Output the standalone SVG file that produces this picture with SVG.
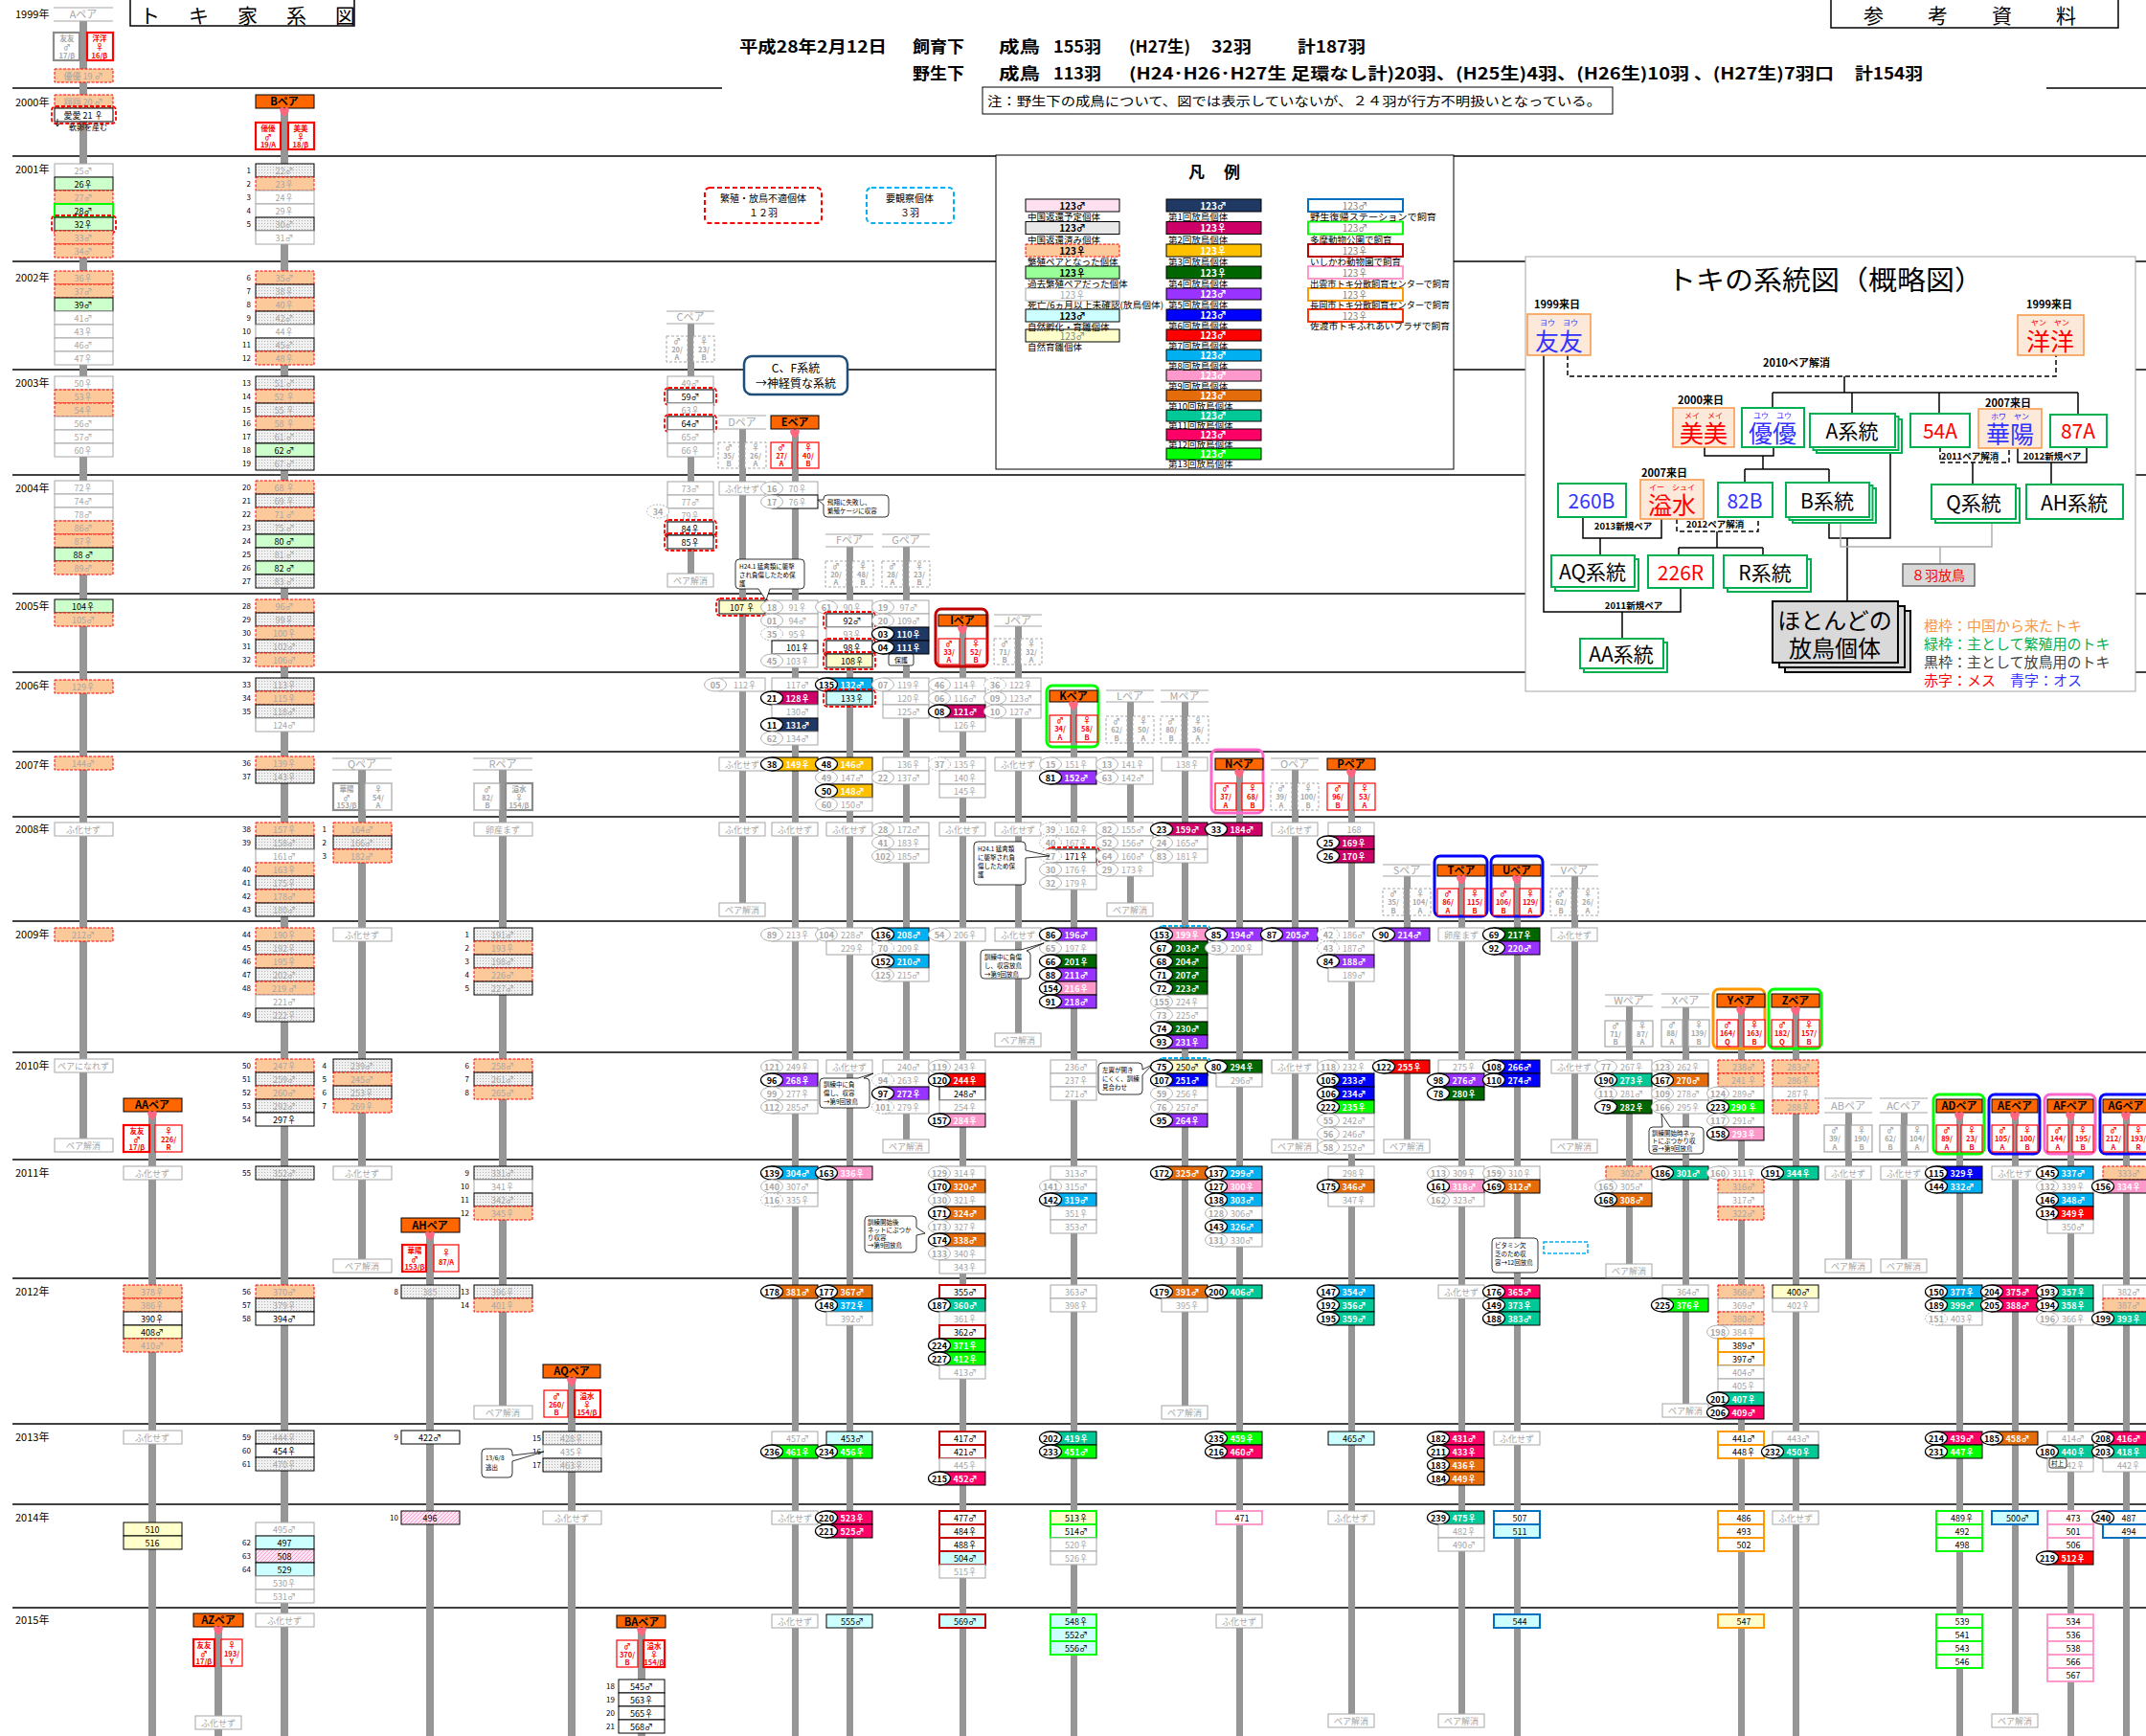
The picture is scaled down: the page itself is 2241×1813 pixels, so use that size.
<svg xmlns="http://www.w3.org/2000/svg" xmlns:xlink="http://www.w3.org/1999/xlink" width="2241" height="1813" viewBox="0 0 2241 1813">
<style>
text{font-family:"Noto Sans CJK JP","Liberation Sans",sans-serif}
.yl{stroke:#000;stroke-width:1.5}
.bar{fill:#969696}
use.w{fill:#fff;stroke:#a6a6a6}
use.k{fill:#fff;stroke:#000}
use.o{fill:#fcc99b;stroke:#f00;stroke-dasharray:3 1.5}
use.g{fill:#ccffcc;stroke:#000}
use.h{fill:url(#dt);stroke:#000}
use.y{fill:#ffffcc;stroke:#000}
use.c{fill:#ccffff;stroke:#000}
use.pk{fill:url(#ph);stroke:#000}
use.r1{fill:#1f3864;stroke:#000}
use.r2{fill:#cc0066;stroke:#000}
use.r3{fill:#ffc000;stroke:#000}
use.r4{fill:#006600;stroke:#000}
use.r5{fill:#9933ff;stroke:#000}
use.r6{fill:#0000ff;stroke:#000}
use.r7{fill:#ff0000;stroke:#000}
use.r8{fill:#00b0f0;stroke:#000}
use.r9{fill:#ff99cc;stroke:#000}
use.r10{fill:#e46c0a;stroke:#000}
use.r11{fill:#00c896;stroke:#000}
use.r12{fill:#ff0066;stroke:#000}
use.r13{fill:#00ff00;stroke:#000}
use.bI{stroke:#c00000;stroke-width:2}
use.bT{stroke:#00ff00;stroke-width:2}
use.bN{stroke:#ff99cc;stroke-width:2}
use.bY{stroke:#ff9900;stroke-width:2}
use.bB{stroke:#0070c0;stroke-width:2}
use.rd{fill:none;stroke:#f00;stroke-width:1.8;stroke-dasharray:4 2}
use.bd{fill:none;stroke:#00b0f0;stroke-width:1.8;stroke-dasharray:4 2}
use.ek{fill:#fff;stroke:#000;stroke-width:1.3}
use.eg{fill:#fff;stroke:#b0b0b0}
use.ed{fill:#fff;stroke:#b0b0b0;stroke-dasharray:2 1.5}
.t text{font-size:9px;text-anchor:middle;fill:#a6a6a6}
.t .b{fill:#000}
.t .v{fill:#fff;font-weight:bold}
.t .n{font-weight:bold}
.t .ln{font-size:8px;text-anchor:end;fill:#000}
.t .pt{font-size:11px;font-weight:bold;fill:#000}
.t .pg{font-size:11px;fill:#a6a6a6}
.t .mt{font-size:7.5px;font-weight:bold;fill:#f00}
.t .mg{font-size:7.5px;font-weight:bold;fill:#a6a6a6}
.t .cs{font-size:6.5px;fill:#000;text-anchor:start}
.ph{fill:#ff6600;stroke:#000}
.pl{stroke:#a6a6a6;stroke-width:1.2}
.mr{fill:#fff;stroke:#f00;stroke-width:1.2}
.mr2{fill:#fff;stroke:#f00;stroke-width:2.2}
.mgs{fill:#fff;stroke:#a6a6a6;stroke-width:1.2}
.mg2{fill:#fff;stroke:#8c8c8c;stroke-width:2.2}
.md{fill:#fff;stroke:#a6a6a6;stroke-dasharray:3 2}
.fr{fill:none;stroke-width:3}
.cl{fill:#fff;stroke:#000;stroke-width:0.8}
.lg{font-size:9.5px;fill:#000}
.ins{fill:#fff;stroke:#00b050;stroke-width:2}
.pch{fill:#fde9d9;stroke:#f79646;stroke-width:1.5}
.il{fill:none;stroke:#000;stroke-width:1.5}
.ild{fill:none;stroke:#000;stroke-width:1.5;stroke-dasharray:5 3}
</style>
<defs>
<pattern id="dt" width="3" height="3" patternUnits="userSpaceOnUse"><rect width="3" height="3" fill="#f0f0f0"/><rect width="1" height="1" fill="#b4b4b4"/></pattern>
<pattern id="ph" width="4" height="4" patternUnits="userSpaceOnUse"><rect width="4" height="4" fill="#ffe6f2"/><path d="M0,4 L4,0" stroke="#ff80c0" stroke-width="0.7"/></pattern>
<rect id="m" x="-24" width="48" height="14"/>
<rect id="L" x="-30" width="61" height="14"/>
<ellipse id="e" rx="11.5" ry="7"/>
<rect id="rdm" x="-27" y="-2" width="54" height="18" rx="4"/>
<rect id="rdL" x="-33" y="-2" width="67" height="18" rx="4"/>
<path id="hr" d="M0,6 C-7,0 -5,-4 -2.5,-4 C-1,-4 0,-3 0,-2 C0,-3 1,-4 2.5,-4 C5,-4 7,0 0,6Z" fill="#ff6680"/>
</defs>
<rect width="2241" height="1813" fill="#fff"/>

<!-- year lines and labels -->
<g id="years">
<line class="yl" x1="13" y1="92" x2="754" y2="92"/><line class="yl" x1="2137" y1="92" x2="2241" y2="92"/>
<line class="yl" x1="13" y1="163" x2="2241" y2="163"/>
<line class="yl" x1="13" y1="273" x2="2241" y2="273"/>
<line class="yl" x1="13" y1="386" x2="2241" y2="386"/>
<line class="yl" x1="13" y1="496" x2="2241" y2="496"/>
<line class="yl" x1="13" y1="620" x2="2241" y2="620"/>
<line class="yl" x1="13" y1="702" x2="2241" y2="702"/>
<line class="yl" x1="13" y1="785" x2="2241" y2="785"/>
<line class="yl" x1="13" y1="853" x2="2241" y2="853"/>
<line class="yl" x1="13" y1="962" x2="2241" y2="962"/>
<line class="yl" x1="13" y1="1099" x2="2241" y2="1099"/>
<line class="yl" x1="13" y1="1211" x2="2241" y2="1211"/>
<line class="yl" x1="13" y1="1335" x2="2241" y2="1335"/>
<line class="yl" x1="13" y1="1487" x2="2241" y2="1487"/>
<line class="yl" x1="13" y1="1571" x2="2241" y2="1571"/>
<line class="yl" x1="13" y1="1679" x2="2241" y2="1679"/>
<g font-size="11">
<text x="16" y="19">1999年</text><text x="16" y="111">2000年</text><text x="16" y="181">2001年</text><text x="16" y="294">2002年</text><text x="16" y="404">2003年</text><text x="16" y="514">2004年</text><text x="16" y="637">2005年</text><text x="16" y="720">2006年</text><text x="16" y="803">2007年</text><text x="16" y="870">2008年</text><text x="16" y="980">2009年</text><text x="16" y="1117">2010年</text><text x="16" y="1229">2011年</text><text x="16" y="1353">2012年</text><text x="16" y="1505">2013年</text><text x="16" y="1589">2014年</text><text x="16" y="1696">2015年</text>
</g>
</g>

<!-- headers -->
<g id="title">
<rect x="136" y="-3" width="234" height="30" fill="#fff" stroke="#000" stroke-width="1.5"/>
<text x="146" y="24" font-size="21" letter-spacing="30">トキ家系図</text>
<rect x="1912" y="-3" width="300" height="32" fill="#fff" stroke="#000" stroke-width="1.5"/>
<text x="1946" y="24" font-size="21" letter-spacing="46">参考資料</text>
<g font-size="17" font-weight="bold">
<text x="772" y="55" textLength="154" lengthAdjust="spacingAndGlyphs">平成28年2月12日</text>
<text x="953" y="55" textLength="54" lengthAdjust="spacingAndGlyphs">飼育下</text>
<text x="1043" y="55" textLength="43" lengthAdjust="spacingAndGlyphs">成鳥</text>
<text x="1100" y="55" textLength="50" lengthAdjust="spacingAndGlyphs">155羽</text>
<text x="1179" y="55" textLength="64" lengthAdjust="spacingAndGlyphs">(H27生)</text>
<text x="1265" y="55" textLength="42" lengthAdjust="spacingAndGlyphs">32羽</text>
<text x="1355" y="55" textLength="71" lengthAdjust="spacingAndGlyphs">計187羽</text>
<text x="953" y="83" textLength="54" lengthAdjust="spacingAndGlyphs">野生下</text>
<text x="1043" y="83" textLength="43" lengthAdjust="spacingAndGlyphs">成鳥</text>
<text x="1100" y="83" textLength="50" lengthAdjust="spacingAndGlyphs">113羽</text>
<text x="1179" y="83" textLength="736" lengthAdjust="spacingAndGlyphs">(H24･H26･H27生 足環なし計)20羽、(H25生)4羽、(H26生)10羽 、(H27生)7羽口</text>
<text x="1937" y="83" textLength="71" lengthAdjust="spacingAndGlyphs">計154羽</text>
</g>
<rect x="1026" y="91" width="658" height="28" fill="#fff" stroke="#000"/>
<text x="1031" y="110" font-size="13" textLength="641" lengthAdjust="spacingAndGlyphs">注：野生下の成鳥について、図では表示していないが、２４羽が行方不明扱いとなっている。</text>
</g>

<g id="notes">
<rect x="736" y="196" width="122" height="37" rx="5" fill="#fff" stroke="#f00" stroke-width="2" stroke-dasharray="5 3"/>
<text x="797" y="211" font-size="10" text-anchor="middle">繁殖・放鳥不適個体</text>
<text x="797" y="226" font-size="10" text-anchor="middle">１２羽</text>
<rect x="905" y="196" width="91" height="37" rx="5" fill="#fff" stroke="#00b0f0" stroke-width="2" stroke-dasharray="5 3"/>
<text x="950" y="211" font-size="10" text-anchor="middle">要観察個体</text>
<text x="950" y="226" font-size="10" text-anchor="middle">３羽</text>
<rect x="777" y="372" width="108" height="40" rx="8" fill="#fff" stroke="#1f4e79" stroke-width="2.5"/>
<text x="831" y="389" font-size="12" text-anchor="middle">C、F系統</text>
<text x="831" y="405" font-size="12" text-anchor="middle">→神経質な系統</text>
</g>

<!-- connectors: lineage bars -->
<g id="bars" class="bar">
<rect x="83" y="22" width="8" height="1167"/>
<rect x="293" y="113" width="8" height="1700"/>
<rect x="155" y="1161" width="8" height="652"/>
<rect x="224" y="1699" width="8" height="114"/>
<rect x="374" y="804" width="8" height="511"/>
<rect x="521" y="804" width="8" height="664"/>
<rect x="445" y="1287" width="8" height="526"/>
<rect x="593" y="1439" width="8" height="374"/>
<rect x="666" y="1700" width="8" height="113"/>
<rect x="718" y="338" width="7" height="261"/>
<rect x="772" y="448" width="7" height="495"/>
<rect x="827" y="448" width="7" height="1365"/>
<rect x="884" y="571" width="7" height="1242"/>
<rect x="943" y="571" width="7" height="619"/>
<rect x="1002" y="654" width="7" height="1159"/>
<rect x="1060" y="654" width="7" height="425"/>
<rect x="1118" y="733" width="7" height="1080"/>
<rect x="1177" y="733" width="7" height="210"/>
<rect x="1234" y="733" width="7" height="735"/>
<rect x="1291" y="804" width="7" height="1009"/>
<rect x="1349" y="804" width="7" height="386"/>
<rect x="1408" y="804" width="7" height="986"/>
<rect x="1466" y="915" width="7" height="275"/>
<rect x="1523" y="915" width="7" height="875"/>
<rect x="1581" y="915" width="7" height="898"/>
<rect x="1641" y="915" width="7" height="275"/>
<rect x="1698" y="1051" width="7" height="269"/>
<rect x="1757" y="1052" width="7" height="414"/>
<rect x="1815" y="1052" width="7" height="761"/>
<rect x="1872" y="1052" width="7" height="761"/>
<rect x="1927" y="1162" width="7" height="153"/>
<rect x="1985" y="1162" width="7" height="153"/>
<rect x="2043" y="1162" width="7" height="651"/>
<rect x="2101" y="1162" width="7" height="628"/>
<rect x="2159" y="1162" width="7" height="651"/>
<rect x="2217" y="1162" width="7" height="651"/>
</g>

<!-- A -->
<g id="col-A" class="t" transform="translate(87,0)">
<line class="pl" x1="-31" y1="8" x2="31" y2="8"/><line class="pl" x1="-31" y1="22" x2="31" y2="22"/>
<text class="pg" y="19">Aペア</text>
<rect class="mg2" x="-31" y="34" width="27" height="29"/><rect class="mr2" x="4" y="34" width="27" height="29"/>
<text class="mg" x="-17" y="43">友友</text><text class="mg" x="-17" y="52">♂</text><text class="mg" x="-17" y="61">17/β</text>
<text class="mt" x="17" y="43">洋洋</text><text class="mt" x="17" y="52">♀</text><text class="mt" x="17" y="61">16/β</text>
<use href="#L" class="o" y="72"/><text x="0" y="82.5">優優 19 ♂</text>
<use href="#L" class="o" y="99"/><text x="0" y="109.5">翔翔 20 ♂</text>
<use href="#L" class="k" y="113"/><text class="b" x="0" y="123.5">愛愛 21 ♀</text><use href="#rdL" class="rd" y="113"/>
<path d="M-27,124 V132 M-29,129 L-27,132 L-25,129" stroke="#000" fill="none" stroke-width="0.8"/>
<text class="b" x="5" y="136" style="font-size:8px">軟卵を産む</text>
<use href="#L" class="w" y="171"/><text x="0" y="181.5">25♂</text>
<use href="#L" class="g" y="185"/><text class="b" x="0" y="195.5">26♀</text>
<use href="#L" class="o" y="199"/><text x="0" y="209.5">27♂</text>
<use href="#L" class="g bT" y="213"/><text class="b" x="0" y="223.5">28♂</text>
<use href="#L" class="g" y="227"/><text class="b" x="0" y="237.5">32♀</text><use href="#rdL" class="rd" y="227"/>
<use href="#L" class="o" y="241"/><text x="0" y="251.5">33♂</text>
<use href="#L" class="o" y="255"/><text x="0" y="265.5">34♂</text>
<use href="#L" class="o" y="283"/><text x="0" y="293.5">36♀</text>
<use href="#L" class="o" y="297"/><text x="0" y="307.5">37♂</text>
<use href="#L" class="g" y="311"/><text class="b" x="0" y="321.5">39♂</text>
<use href="#L" class="w" y="325"/><text x="0" y="335.5">41♂</text>
<use href="#L" class="w" y="339"/><text x="0" y="349.5">43♀</text>
<use href="#L" class="w" y="353"/><text x="0" y="363.5">46♂</text>
<use href="#L" class="w" y="367"/><text x="0" y="377.5">47♀</text>
<use href="#L" class="w" y="393"/><text x="0" y="403.5">50♀</text>
<use href="#L" class="o" y="407"/><text x="0" y="417.5">53♀</text>
<use href="#L" class="o" y="421"/><text x="0" y="431.5">54♀</text>
<use href="#L" class="w" y="435"/><text x="0" y="445.5">56♂</text>
<use href="#L" class="w" y="449"/><text x="0" y="459.5">57♂</text>
<use href="#L" class="w" y="463"/><text x="0" y="473.5">60♀</text>
<use href="#L" class="w" y="502"/><text x="0" y="512.5">72♀</text>
<use href="#L" class="w" y="516"/><text x="0" y="526.5">74♂</text>
<use href="#L" class="w" y="530"/><text x="0" y="540.5">78♂</text>
<use href="#L" class="o" y="544"/><text x="0" y="554.5">86♂</text>
<use href="#L" class="o" y="558"/><text x="0" y="568.5">87♀</text>
<use href="#L" class="g" y="572"/><text class="b" x="0" y="582.5">88 ♂</text>
<use href="#L" class="o" y="586"/><text x="0" y="596.5">89♂</text>
<use href="#L" class="g" y="626"/><text class="b" x="0" y="636.5">104♀</text>
<use href="#L" class="o" y="640"/><text x="0" y="650.5">105♂</text>
<use href="#L" class="o" y="710"/><text x="0" y="720.5">129♀</text>
<use href="#L" class="o" y="790"/><text x="0" y="800.5">144♂</text>
<use href="#L" class="w" y="859"/><text x="0" y="869.5">ふ化せず</text>
<use href="#L" class="o" y="969"/><text x="0" y="979.5">212♂</text>
<use href="#L" class="w" y="1106"/><text x="0" y="1116.5">ペアになれず</text>
<use href="#L" class="w" y="1189"/><text x="0" y="1199.5">ペア解消</text>
</g>

<!-- B -->
<g id="col-B" class="t" transform="translate(297,0)">
<rect class="ph" x="-30" y="99" width="61" height="14"/><text class="pt" y="110">Bペア</text><use href="#hr" y="116"/>
<rect class="mr2" x="-30" y="128" width="26" height="28"/><rect class="mr2" x="4" y="128" width="27" height="28"/>
<text class="mt" x="-17" y="137">優優</text><text class="mt" x="-17" y="146">♂</text><text class="mt" x="-17" y="154">19/A</text>
<text class="mt" x="17" y="137">美美</text><text class="mt" x="17" y="146">♀</text><text class="mt" x="17" y="154">18/β</text>
<use href="#L" class="h" y="171"/><text x="0" y="181.5">22♂</text><text class="ln" x="-35" y="181">1</text>
<use href="#L" class="o" y="185"/><text x="0" y="195.5">23♀</text><text class="ln" x="-35" y="195">2</text>
<use href="#L" class="w" y="199"/><text x="0" y="209.5">24♀</text><text class="ln" x="-35" y="209">3</text>
<use href="#L" class="w" y="213"/><text x="0" y="223.5">29♀</text><text class="ln" x="-35" y="223">4</text>
<use href="#L" class="h" y="227"/><text x="0" y="237.5">30♂</text><text class="ln" x="-35" y="237">5</text>
<use href="#L" class="w" y="241"/><text x="0" y="251.5">31♂</text>
<use href="#L" class="o" y="283"/><text x="0" y="293.5">35♂</text><text class="ln" x="-35" y="293">6</text>
<use href="#L" class="h" y="297"/><text x="0" y="307.5">38♀</text><text class="ln" x="-35" y="307">7</text>
<use href="#L" class="o" y="311"/><text x="0" y="321.5">40♀</text><text class="ln" x="-35" y="321">8</text>
<use href="#L" class="h" y="325"/><text x="0" y="335.5">42♂</text><text class="ln" x="-35" y="335">9</text>
<use href="#L" class="w" y="339"/><text x="0" y="349.5">44♀</text><text class="ln" x="-35" y="349">10</text>
<use href="#L" class="h" y="353"/><text x="0" y="363.5">45♂</text><text class="ln" x="-35" y="363">11</text>
<use href="#L" class="o" y="367"/><text x="0" y="377.5">48♀</text><text class="ln" x="-35" y="377">12</text>
<use href="#L" class="h" y="393"/><text x="0" y="403.5">51 ♂</text><text class="ln" x="-35" y="403">13</text>
<use href="#L" class="o" y="407"/><text x="0" y="417.5">52 ♀</text><text class="ln" x="-35" y="417">14</text>
<use href="#L" class="h" y="421"/><text x="0" y="431.5">55 ♀</text><text class="ln" x="-35" y="431">15</text>
<use href="#L" class="o" y="435"/><text x="0" y="445.5">58 ♀</text><text class="ln" x="-35" y="445">16</text>
<use href="#L" class="h" y="449"/><text x="0" y="459.5">61 ♂</text><text class="ln" x="-35" y="459">17</text>
<use href="#L" class="g" y="463"/><text class="b" x="0" y="473.5">62 ♂</text><text class="ln" x="-35" y="473">18</text>
<use href="#L" class="h" y="477"/><text x="0" y="487.5">67 ♂</text><text class="ln" x="-35" y="487">19</text>
<use href="#L" class="o" y="502"/><text x="0" y="512.5">68 ♀</text><text class="ln" x="-35" y="512">20</text>
<use href="#L" class="h" y="516"/><text x="0" y="526.5">69 ♀</text><text class="ln" x="-35" y="526">21</text>
<use href="#L" class="o" y="530"/><text x="0" y="540.5">71 ♂</text><text class="ln" x="-35" y="540">22</text>
<use href="#L" class="h" y="544"/><text x="0" y="554.5">75 ♂</text><text class="ln" x="-35" y="554">23</text>
<use href="#L" class="g" y="558"/><text class="b" x="0" y="568.5">80 ♂</text><text class="ln" x="-35" y="568">24</text>
<use href="#L" class="h" y="572"/><text x="0" y="582.5">81 ♂</text><text class="ln" x="-35" y="582">25</text>
<use href="#L" class="g" y="586"/><text class="b" x="0" y="596.5">82 ♂</text><text class="ln" x="-35" y="596">26</text>
<use href="#L" class="h" y="600"/><text x="0" y="610.5">83 ♂</text><text class="ln" x="-35" y="610">27</text>
<use href="#L" class="o" y="626"/><text x="0" y="636.5">96♂</text><text class="ln" x="-35" y="636">28</text>
<use href="#L" class="h" y="640"/><text x="0" y="650.5">99♀</text><text class="ln" x="-35" y="650">29</text>
<use href="#L" class="o" y="654"/><text x="0" y="664.5">100♀</text><text class="ln" x="-35" y="664">30</text>
<use href="#L" class="h" y="668"/><text x="0" y="678.5">102♂</text><text class="ln" x="-35" y="678">31</text>
<use href="#L" class="o" y="682"/><text x="0" y="692.5">106♂</text><text class="ln" x="-35" y="692">32</text>
<use href="#L" class="h" y="708"/><text x="0" y="718.5">113♀</text><text class="ln" x="-35" y="718">33</text>
<use href="#L" class="o" y="722"/><text x="0" y="732.5">115♀</text><text class="ln" x="-35" y="732">34</text>
<use href="#L" class="h" y="736"/><text x="0" y="746.5">118♂</text><text class="ln" x="-35" y="746">35</text>
<use href="#L" class="w" y="750"/><text x="0" y="760.5">124♂</text>
<use href="#L" class="o" y="790"/><text x="0" y="800.5">139♀</text><text class="ln" x="-35" y="800">36</text>
<use href="#L" class="h" y="804"/><text x="0" y="814.5">143♀</text><text class="ln" x="-35" y="814">37</text>
<use href="#L" class="o" y="859"/><text x="0" y="869.5">157♀</text><text class="ln" x="-35" y="869">38</text>
<use href="#L" class="h" y="873"/><text x="0" y="883.5">158♂</text><text class="ln" x="-35" y="883">39</text>
<use href="#L" class="w" y="887"/><text x="0" y="897.5">161♂</text>
<use href="#L" class="o" y="901"/><text x="0" y="911.5">163♀</text><text class="ln" x="-35" y="911">40</text>
<use href="#L" class="h" y="915"/><text x="0" y="925.5">175♀</text><text class="ln" x="-35" y="925">41</text>
<use href="#L" class="o" y="929"/><text x="0" y="939.5">178♂</text><text class="ln" x="-35" y="939">42</text>
<use href="#L" class="h" y="943"/><text x="0" y="953.5">180♂</text><text class="ln" x="-35" y="953">43</text>
<use href="#L" class="o" y="969"/><text x="0" y="979.5">190♀</text><text class="ln" x="-35" y="979">44</text>
<use href="#L" class="h" y="983"/><text x="0" y="993.5">192♀</text><text class="ln" x="-35" y="993">45</text>
<use href="#L" class="o" y="997"/><text x="0" y="1007.5">195♀</text><text class="ln" x="-35" y="1007">46</text>
<use href="#L" class="h" y="1011"/><text x="0" y="1021.5">202♂</text><text class="ln" x="-35" y="1021">47</text>
<use href="#L" class="o" y="1025"/><text x="0" y="1035.5">219 ♂</text><text class="ln" x="-35" y="1035">48</text>
<use href="#L" class="w" y="1039"/><text x="0" y="1049.5">221♂</text>
<use href="#L" class="h" y="1053"/><text x="0" y="1063.5">222♀</text><text class="ln" x="-35" y="1063">49</text>
<use href="#L" class="o" y="1106"/><text x="0" y="1116.5">247♀</text><text class="ln" x="-35" y="1116">50</text>
<use href="#L" class="h" y="1120"/><text x="0" y="1130.5">259♂</text><text class="ln" x="-35" y="1130">51</text>
<use href="#L" class="o" y="1134"/><text x="0" y="1144.5">260♂</text><text class="ln" x="-35" y="1144">52</text>
<use href="#L" class="h" y="1148"/><text x="0" y="1158.5">292♂</text><text class="ln" x="-35" y="1158">53</text>
<use href="#L" class="k" y="1162"/><text class="b" x="0" y="1172.5">297♀</text><text class="ln" x="-35" y="1172">54</text>
<use href="#L" class="h" y="1218"/><text x="0" y="1228.5">352♂</text><text class="ln" x="-35" y="1228">55</text>
<use href="#L" class="o" y="1342"/><text x="0" y="1352.5">370♂</text><text class="ln" x="-35" y="1352">56</text>
<use href="#L" class="h" y="1356"/><text x="0" y="1366.5">379♀</text><text class="ln" x="-35" y="1366">57</text>
<use href="#L" class="k" y="1370"/><text class="b" x="0" y="1380.5">394♂</text><text class="ln" x="-35" y="1380">58</text>
<use href="#L" class="h" y="1494"/><text x="0" y="1504.5">444♀</text><text class="ln" x="-35" y="1504">59</text>
<use href="#L" class="k" y="1508"/><text class="b" x="0" y="1518.5">454♀</text><text class="ln" x="-35" y="1518">60</text>
<use href="#L" class="h" y="1522"/><text x="0" y="1532.5">470♀</text><text class="ln" x="-35" y="1532">61</text>
<use href="#L" class="w" y="1590"/><text x="0" y="1600.5">495♂</text>
<use href="#L" class="c" y="1604"/><text class="b" x="0" y="1614.5">497</text><text class="ln" x="-35" y="1614">62</text>
<use href="#L" class="pk" y="1618"/><text class="b" x="0" y="1628.5">508</text><text class="ln" x="-35" y="1628">63</text>
<use href="#L" class="c" y="1632"/><text class="b" x="0" y="1642.5">529</text><text class="ln" x="-35" y="1642">64</text>
<use href="#L" class="w" y="1646"/><text x="0" y="1656.5">530♀</text>
<use href="#L" class="w" y="1660"/><text x="0" y="1670.5">531♂</text>
<use href="#L" class="w" y="1685"/><text x="0" y="1695.5">ふ化せず</text>
</g>

<!-- AA -->
<g id="col-AA" class="t" transform="translate(159,0)">
<rect class="ph" x="-30" y="1147" width="61" height="14"/><text class="pt" y="1158">AAペア</text><use href="#hr" y="1164"/>
<rect class="mr2" x="-30" y="1175" width="27" height="28"/><rect class="mr" x="3" y="1175" width="28" height="28"/>
<text class="mt" x="-16" y="1184">友友</text><text class="mt" x="-16" y="1193">♂</text><text class="mt" x="-16" y="1201">17/β</text>
<text class="mt" x="17" y="1184">♀</text><text class="mt" x="17" y="1193">226/</text><text class="mt" x="17" y="1201">R</text>
<use href="#L" class="w" y="1218"/><text x="0" y="1228.5">ふ化せず</text>
<use href="#L" class="o" y="1342"/><text x="0" y="1352.5">378♀</text>
<use href="#L" class="o" y="1356"/><text x="0" y="1366.5">386♀</text>
<use href="#L" class="k" y="1370"/><text class="b" x="0" y="1380.5">390♀</text>
<use href="#L" class="y" y="1384"/><text class="b" x="0" y="1394.5">408♂</text>
<use href="#L" class="o" y="1398"/><text x="0" y="1408.5">410♂</text>
<use href="#L" class="w" y="1494"/><text x="0" y="1504.5">ふ化せず</text>
<use href="#L" class="y" y="1590"/><text class="b" x="0" y="1600.5">510</text>
<use href="#L" class="y" y="1604"/><text class="b" x="0" y="1614.5">516</text>
</g>

<!-- AZ -->
<g id="col-AZ" class="t" transform="translate(228,0)">
<rect class="ph" x="-26" y="1685" width="52" height="14"/><text class="pt" y="1696">AZペア</text><use href="#hr" y="1702"/>
<rect class="mr2" x="-26" y="1712" width="22" height="28"/><rect class="mr" x="3" y="1712" width="22" height="28"/>
<text class="mt" x="-15" y="1721">友友</text><text class="mt" x="-15" y="1730">♂</text><text class="mt" x="-15" y="1738">17/β</text>
<text class="mt" x="14" y="1721">♀</text><text class="mt" x="14" y="1730">193/</text><text class="mt" x="14" y="1738">Y</text>
<use href="#m" class="w" y="1792"/><text x="0" y="1802.5">ふ化せず</text>
</g>

<!-- Q -->
<g id="col-Q" class="t" transform="translate(378,0)">
<line class="pl" x1="-31" y1="792" x2="31" y2="792"/><line class="pl" x1="-31" y1="804" x2="31" y2="804"/>
<text class="pg" y="802">Qペア</text>
<rect class="mg2" x="-30" y="818" width="27" height="28"/><rect class="mgs" x="3" y="818" width="28" height="28"/>
<text class="mg" x="-16" y="827">華陽</text><text class="mg" x="-16" y="836">♂</text><text class="mg" x="-16" y="844">153/β</text>
<text class="mg" x="17" y="827">♀</text><text class="mg" x="17" y="836">54/</text><text class="mg" x="17" y="844">A</text>
<use href="#L" class="o" y="859"/><text x="0" y="869.5">164♂</text><text class="ln" x="-37" y="869">1</text>
<use href="#L" class="h" y="873"/><text x="0" y="883.5">166♂</text><text class="ln" x="-37" y="883">2</text>
<use href="#L" class="o" y="887"/><text x="0" y="897.5">182♂</text><text class="ln" x="-37" y="897">3</text>
<use href="#L" class="w" y="969"/><text x="0" y="979.5">ふ化せず</text>
<use href="#L" class="h" y="1106"/><text x="0" y="1116.5">239♂</text><text class="ln" x="-37" y="1116">4</text>
<use href="#L" class="o" y="1120"/><text x="0" y="1130.5">245♂</text><text class="ln" x="-37" y="1130">5</text>
<use href="#L" class="h" y="1134"/><text x="0" y="1144.5">253♀</text><text class="ln" x="-37" y="1144">6</text>
<use href="#L" class="o" y="1148"/><text x="0" y="1158.5">269♀</text><text class="ln" x="-37" y="1158">7</text>
<use href="#L" class="w" y="1218"/><text x="0" y="1228.5">ふ化せず</text>
<use href="#L" class="w" y="1315"/><text x="0" y="1325.5">ペア解消</text>
</g>

<!-- R -->
<g id="col-R" class="t" transform="translate(525,0)">
<line class="pl" x1="-31" y1="792" x2="31" y2="792"/><line class="pl" x1="-31" y1="804" x2="31" y2="804"/>
<text class="pg" y="802">Rペア</text>
<rect class="mgs" x="-30" y="818" width="27" height="28"/><rect class="mg2" x="3" y="818" width="28" height="28"/>
<text class="mg" x="-16" y="827">♂</text><text class="mg" x="-16" y="836">82/</text><text class="mg" x="-16" y="844">B</text>
<text class="mg" x="17" y="827">溢水</text><text class="mg" x="17" y="836">♀</text><text class="mg" x="17" y="844">154/β</text>
<use href="#L" class="w" y="859"/><text x="0" y="869.5">卵産まず</text>
<use href="#L" class="h" y="969"/><text x="0" y="979.5">191♂</text><text class="ln" x="-35" y="979">1</text>
<use href="#L" class="o" y="983"/><text x="0" y="993.5">193♀</text><text class="ln" x="-35" y="993">2</text>
<use href="#L" class="h" y="997"/><text x="0" y="1007.5">198♂</text><text class="ln" x="-35" y="1007">3</text>
<use href="#L" class="o" y="1011"/><text x="0" y="1021.5">226♂</text><text class="ln" x="-35" y="1021">4</text>
<use href="#L" class="h" y="1025"/><text x="0" y="1035.5">227♂</text><text class="ln" x="-35" y="1035">5</text>
<use href="#L" class="o" y="1106"/><text x="0" y="1116.5">258♂</text><text class="ln" x="-35" y="1116">6</text>
<use href="#L" class="h" y="1120"/><text x="0" y="1130.5">261♂</text><text class="ln" x="-35" y="1130">7</text>
<use href="#L" class="o" y="1134"/><text x="0" y="1144.5">265♂</text><text class="ln" x="-35" y="1144">8</text>
<use href="#L" class="h" y="1218"/><text x="0" y="1228.5">331♂</text><text class="ln" x="-35" y="1228">9</text>
<use href="#L" class="w" y="1232"/><text x="0" y="1242.5">341♀</text><text class="ln" x="-35" y="1242">10</text>
<use href="#L" class="h" y="1246"/><text x="0" y="1256.5">342♂</text><text class="ln" x="-35" y="1256">11</text>
<use href="#L" class="o" y="1260"/><text x="0" y="1270.5">345♀</text><text class="ln" x="-35" y="1270">12</text>
<use href="#L" class="h" y="1342"/><text x="0" y="1352.5">396♀</text><text class="ln" x="-35" y="1352">13</text>
<use href="#L" class="o" y="1356"/><text x="0" y="1366.5">401♀</text><text class="ln" x="-35" y="1366">14</text>
<use href="#L" class="w" y="1468"/><text x="0" y="1478.5">ペア解消</text>
</g>

<!-- AH -->
<g id="col-AH" class="t" transform="translate(449,0)">
<rect class="ph" x="-30" y="1272" width="61" height="15"/><text class="pt" y="1284">AHペア</text><use href="#hr" y="1290"/>
<rect class="mr2" x="-29" y="1300" width="25" height="28"/><rect class="mr" x="4" y="1300" width="26" height="28"/>
<text class="mt" x="-16" y="1309">華陽</text><text class="mt" x="-16" y="1318">♂</text><text class="mt" x="-16" y="1326">153/β</text>
<text class="mt" x="17" y="1311">♀</text><text class="mt" x="17" y="1321">87/A</text>
<use href="#L" class="h" y="1342"/><text x="0" y="1352.5">385</text><text class="ln" x="-33" y="1352">8</text>
<use href="#L" class="k" y="1494"/><text class="b" x="0" y="1504.5">422♂</text><text class="ln" x="-33" y="1504">9</text>
<use href="#L" class="pk" y="1578"/><text class="b" x="0" y="1588.5">496</text><text class="ln" x="-33" y="1588">10</text>
</g>

<!-- AQ -->
<g id="col-AQ" class="t" transform="translate(597,0)">
<rect class="ph" x="-30" y="1425" width="60" height="14"/><text class="pt" y="1436">AQペア</text><use href="#hr" y="1442"/>
<rect class="mr" x="-29" y="1452" width="25" height="28"/><rect class="mr2" x="3" y="1452" width="27" height="28"/>
<text class="mt" x="-16" y="1461">♂</text><text class="mt" x="-16" y="1470">260/</text><text class="mt" x="-16" y="1478">B</text>
<text class="mt" x="16" y="1461">溢水</text><text class="mt" x="16" y="1470">♀</text><text class="mt" x="16" y="1478">154/β</text>
<use href="#L" class="h" y="1495"/><text x="0" y="1505.5">428♀</text><text class="ln" x="-32" y="1505">15</text>
<use href="#L" class="w" y="1509"/><text x="0" y="1519.5">435♀</text><text class="ln" x="-32" y="1519">16</text>
<use href="#L" class="h" y="1523"/><text x="0" y="1533.5">463♀</text><text class="ln" x="-32" y="1533">17</text>
<use href="#L" class="w" y="1578"/><text x="0" y="1588.5">ふ化せず</text>
</g>

<!-- BA -->
<g id="col-BA" class="t" transform="translate(670,0)">
<rect class="ph" x="-26" y="1687" width="51" height="13"/><text class="pt" y="1698">BAペア</text><use href="#hr" y="1703"/>
<rect class="mr" x="-26" y="1713" width="22" height="28"/><rect class="mr2" x="2" y="1713" width="22" height="28"/>
<text class="mt" x="-15" y="1722">♂</text><text class="mt" x="-15" y="1731">370/</text><text class="mt" x="-15" y="1739">B</text>
<text class="mt" x="13" y="1722">溢水</text><text class="mt" x="13" y="1731">♀</text><text class="mt" x="13" y="1739">154/β</text>
<use href="#m" class="k" y="1754"/><text class="b" x="0" y="1764.5">545♂</text><text class="ln" x="-28" y="1764">18</text>
<use href="#m" class="k" y="1768"/><text class="b" x="0" y="1778.5">563♀</text><text class="ln" x="-28" y="1778">19</text>
<use href="#m" class="k" y="1782"/><text class="b" x="0" y="1792.5">565♀</text><text class="ln" x="-28" y="1792">20</text>
<use href="#m" class="k" y="1796"/><text class="b" x="0" y="1806.5">568♂</text><text class="ln" x="-28" y="1806">21</text>
</g>

<!-- C -->
<g id="col-C" class="t" transform="translate(721,0)">
<line class="pl" x1="-25" y1="325" x2="25" y2="325"/><line class="pl" x1="-25" y1="338" x2="25" y2="338"/>
<text class="pg" y="335">Cペア</text>
<rect class="md" x="-25" y="351" width="22" height="27"/><rect class="md" x="3" y="351" width="22" height="27"/>
<text class="mg" x="-14" y="359">♂</text><text class="mg" x="-14" y="368">20/</text><text class="mg" x="-14" y="376">A</text>
<text class="mg" x="14" y="359">♀</text><text class="mg" x="14" y="368">23/</text><text class="mg" x="14" y="376">B</text>
<use href="#m" class="w" y="393"/><text x="0" y="403.5">49♂</text>
<use href="#m" class="k" y="407"/><text class="b" x="0" y="417.5">59♂</text><use href="#rdm" class="rd" y="407"/>
<use href="#m" class="w" y="421"/><text x="0" y="431.5">63♀</text>
<use href="#m" class="k" y="435"/><text class="b" x="0" y="445.5">64♂</text><use href="#rdm" class="rd" y="435"/>
<use href="#m" class="w" y="449"/><text x="0" y="459.5">65♂</text>
<use href="#m" class="w" y="463"/><text x="0" y="473.5">66♀</text>
<use href="#m" class="w" y="503"/><text x="0" y="513.5">73♂</text>
<use href="#m" class="w" y="517"/><text x="0" y="527.5">77♂</text>
<use href="#m" class="w" y="531"/><text x="0" y="541.5">79♀</text>
<use href="#m" class="k" y="545"/><text class="b" x="0" y="555.5">84♀</text><use href="#rdm" class="rd" y="545"/>
<use href="#m" class="k" y="559"/><text class="b" x="0" y="569.5">85♀</text><use href="#rdm" class="rd" y="559"/>
<use href="#e" class="ed" x="-34" y="534"/><text class="n" x="-34" y="537.5">34</text>
<use href="#m" class="w" y="599"/><text x="0" y="609.5">ペア解消</text>
</g>

<!-- D -->
<g id="col-D" class="t" transform="translate(775,0)">
<line class="pl" x1="-25" y1="434" x2="25" y2="434"/><line class="pl" x1="-25" y1="448" x2="25" y2="448"/>
<text class="pg" y="445">Dペア</text>
<rect class="md" x="-25" y="462" width="22" height="27"/><rect class="md" x="3" y="462" width="22" height="27"/>
<text class="mg" x="-14" y="470">♂</text><text class="mg" x="-14" y="479">35/</text><text class="mg" x="-14" y="487">B</text>
<text class="mg" x="14" y="470">♀</text><text class="mg" x="14" y="479">26/</text><text class="mg" x="14" y="487">A</text>
<use href="#m" class="w" y="503"/><text x="0" y="513.5">ふ化せず</text>
<use href="#m" class="y" y="627"/><text class="b" x="0" y="637.5">107 ♀</text><use href="#rdm" class="rd" y="627"/>
<use href="#m" class="w" y="708"/><text x="3" y="718.5">112♀</text><use href="#e" class="eg" x="-28" y="715"/><text class="n" x="-28" y="718.5">05</text>
<use href="#m" class="w" y="791"/><text x="0" y="801.5">ふ化せず</text>
<use href="#m" class="w" y="859"/><text x="0" y="869.5">ふ化せず</text>
<use href="#m" class="w" y="943"/><text x="0" y="953.5">ペア解消</text>
</g>

<!-- E -->
<g id="col-E" class="t" transform="translate(830,0)">
<rect class="ph" x="-25" y="434" width="50" height="14"/><text class="pt" y="445">Eペア</text><use href="#hr" y="452"/>
<rect class="mr" x="-25" y="462" width="22" height="27"/><rect class="mr" x="3" y="462" width="22" height="27"/>
<text class="mt" x="-14" y="470">♂</text><text class="mt" x="-14" y="479">27/</text><text class="mt" x="-14" y="487">A</text>
<text class="mt" x="14" y="470">♀</text><text class="mt" x="14" y="479">40/</text><text class="mt" x="14" y="487">B</text>
<use href="#m" class="w" y="503"/><text x="3" y="513.5">70♀</text><use href="#e" class="eg" x="-24" y="510"/><text class="n" x="-24" y="513.5">16</text>
<use href="#m" class="k" y="517"/><text x="3" y="527.5">76♀</text><use href="#e" class="eg" x="-24" y="524"/><text class="n" x="-24" y="527.5">17</text>
<use href="#m" class="w" y="627"/><text x="3" y="637.5">91♀</text><use href="#e" class="eg" x="-24" y="634"/><text class="n" x="-24" y="637.5">18</text>
<use href="#m" class="w" y="641"/><text x="3" y="651.5">94♂</text><use href="#e" class="eg" x="-24" y="648"/><text class="n" x="-24" y="651.5">01</text>
<use href="#m" class="w" y="655"/><text x="3" y="665.5">95♀</text><use href="#e" class="ed" x="-24" y="662"/><text class="n" x="-24" y="665.5">35</text>
<use href="#m" class="k" y="669"/><text class="b" x="3" y="679.5">101♀</text>
<use href="#m" class="w" y="683"/><text x="3" y="693.5">103♀</text><use href="#e" class="eg" x="-24" y="690"/><text class="n" x="-24" y="693.5">45</text>
<use href="#m" class="w" y="708"/><text x="3" y="718.5">117♂</text>
<use href="#m" class="r2" y="722"/><text class="v" x="3" y="732.5">128♀</text><use href="#e" class="ek" x="-24" y="729"/><text class="n b" x="-24" y="732.5">21</text>
<use href="#m" class="w" y="736"/><text x="3" y="746.5">130♂</text>
<use href="#m" class="r1" y="750"/><text class="v" x="3" y="760.5">131♂</text><use href="#e" class="ek" x="-24" y="757"/><text class="n b" x="-24" y="760.5">11</text>
<use href="#m" class="w" y="764"/><text x="3" y="774.5">134♂</text><use href="#e" class="eg" x="-24" y="771"/><text class="n" x="-24" y="774.5">62</text>
<use href="#m" class="r3" y="791"/><text class="v" x="3" y="801.5">149♀</text><use href="#e" class="ek" x="-24" y="798"/><text class="n b" x="-24" y="801.5">38</text>
<use href="#m" class="w" y="859"/><text x="0" y="869.5">ふ化せず</text>
<use href="#m" class="w" y="969"/><text x="3" y="979.5">213♀</text><use href="#e" class="eg" x="-24" y="976"/><text class="n" x="-24" y="979.5">89</text>
<use href="#m" class="w" y="1107"/><text x="3" y="1117.5">249♀</text><use href="#e" class="eg" x="-24" y="1114"/><text class="n" x="-24" y="1117.5">121</text>
<use href="#m" class="r5" y="1121"/><text class="v" x="3" y="1131.5">268♀</text><use href="#e" class="ek" x="-24" y="1128"/><text class="n b" x="-24" y="1131.5">96</text>
<use href="#m" class="w" y="1135"/><text x="3" y="1145.5">277♀</text><use href="#e" class="eg" x="-24" y="1142"/><text class="n" x="-24" y="1145.5">99</text>
<use href="#m" class="w" y="1149"/><text x="3" y="1159.5">285♂</text><use href="#e" class="eg" x="-24" y="1156"/><text class="n" x="-24" y="1159.5">112</text>
<use href="#m" class="r8" y="1218"/><text class="v" x="3" y="1228.5">304♂</text><use href="#e" class="ek" x="-24" y="1225"/><text class="n b" x="-24" y="1228.5">139</text>
<use href="#m" class="w" y="1232"/><text x="3" y="1242.5">307♂</text><use href="#e" class="eg" x="-24" y="1239"/><text class="n" x="-24" y="1242.5">140</text>
<use href="#m" class="w" y="1246"/><text x="3" y="1256.5">335♀</text><use href="#e" class="ed" x="-24" y="1253"/><text class="n" x="-24" y="1256.5">116</text>
<use href="#m" class="r10" y="1342"/><text class="v" x="3" y="1352.5">381♂</text><use href="#e" class="ek" x="-24" y="1349"/><text class="n b" x="-24" y="1352.5">178</text>
<use href="#m" class="w" y="1495"/><text x="3" y="1505.5">457♂</text>
<use href="#m" class="r13" y="1509"/><text class="v" x="3" y="1519.5">461♀</text><use href="#e" class="ek" x="-24" y="1516"/><text class="n b" x="-24" y="1519.5">236</text>
<use href="#m" class="w" y="1578"/><text x="0" y="1588.5">ふ化せず</text>
<use href="#m" class="w" y="1686"/><text x="0" y="1696.5">ふ化せず</text>
</g>

<!-- F -->
<g id="col-F" class="t" transform="translate(887,0)">
<line class="pl" x1="-25" y1="558" x2="25" y2="558"/><line class="pl" x1="-25" y1="571" x2="25" y2="571"/>
<text class="pg" y="568">Fペア</text>
<rect class="md" x="-25" y="586" width="22" height="27"/><rect class="md" x="3" y="586" width="22" height="27"/>
<text class="mg" x="-14" y="594">♂</text><text class="mg" x="-14" y="603">20/</text><text class="mg" x="-14" y="611">A</text>
<text class="mg" x="14" y="594">♀</text><text class="mg" x="14" y="603">48/</text><text class="mg" x="14" y="611">B</text>
<use href="#m" class="w" y="627"/><text x="3" y="637.5">90♀</text><use href="#e" class="eg" x="-24" y="634"/><text class="n" x="-24" y="637.5">61</text>
<use href="#m" class="k" y="641"/><text class="b" x="3" y="651.5">92♂</text><use href="#rdm" class="rd" y="641"/>
<use href="#m" class="w" y="655"/><text x="3" y="665.5">93♀</text>
<use href="#m" class="k" y="669"/><text class="b" x="3" y="679.5">98♀</text><use href="#rdm" class="rd" y="669"/>
<use href="#m" class="y" y="683"/><text class="b" x="3" y="693.5">108♀</text><use href="#rdm" class="rd" y="683"/>
<use href="#m" class="r8" y="708"/><text class="v" x="3" y="718.5">132♂</text><use href="#e" class="ek" x="-24" y="715"/><text class="n b" x="-24" y="718.5">135</text>
<use href="#m" class="c" y="722"/><text class="b" x="3" y="732.5">133♀</text><use href="#rdm" class="rd" y="722"/>
<use href="#m" class="r3" y="791"/><text class="v" x="3" y="801.5">146♂</text><use href="#e" class="ek" x="-24" y="798"/><text class="n b" x="-24" y="801.5">48</text>
<use href="#m" class="w" y="805"/><text x="3" y="815.5">147♂</text><use href="#e" class="eg" x="-24" y="812"/><text class="n" x="-24" y="815.5">49</text>
<use href="#m" class="r3" y="819"/><text class="v" x="3" y="829.5">148♂</text><use href="#e" class="ek" x="-24" y="826"/><text class="n b" x="-24" y="829.5">50</text>
<use href="#m" class="w" y="833"/><text x="3" y="843.5">150♂</text><use href="#e" class="eg" x="-24" y="840"/><text class="n" x="-24" y="843.5">60</text>
<use href="#m" class="w" y="859"/><text x="0" y="869.5">ふ化せず</text>
<use href="#m" class="w" y="969"/><text x="3" y="979.5">228♂</text><use href="#e" class="eg" x="-24" y="976"/><text class="n" x="-24" y="979.5">104</text>
<use href="#m" class="w" y="983"/><text x="3" y="993.5">229♀</text>
<use href="#m" class="w" y="1107"/><text x="0" y="1117.5">ふ化せず</text>
<use href="#m" class="r9" y="1218"/><text class="v" x="3" y="1228.5">336♀</text><use href="#e" class="ek" x="-24" y="1225"/><text class="n b" x="-24" y="1228.5">163</text>
<use href="#m" class="r10" y="1342"/><text class="v" x="3" y="1352.5">367♂</text><use href="#e" class="ek" x="-24" y="1349"/><text class="n b" x="-24" y="1352.5">177</text>
<use href="#m" class="r8" y="1356"/><text class="v" x="3" y="1366.5">372♀</text><use href="#e" class="ek" x="-24" y="1363"/><text class="n b" x="-24" y="1366.5">148</text>
<use href="#m" class="w" y="1370"/><text x="3" y="1380.5">392♂</text>
<use href="#m" class="c" y="1495"/><text class="b" x="3" y="1505.5">453♂</text>
<use href="#m" class="r13" y="1509"/><text class="v" x="3" y="1519.5">456♀</text><use href="#e" class="ek" x="-24" y="1516"/><text class="n b" x="-24" y="1519.5">234</text>
<use href="#m" class="r12" y="1578"/><text class="v" x="3" y="1588.5">523♀</text><use href="#e" class="ek" x="-24" y="1585"/><text class="n b" x="-24" y="1588.5">220</text>
<use href="#m" class="r12" y="1592"/><text class="v" x="3" y="1602.5">525♂</text><use href="#e" class="ek" x="-24" y="1599"/><text class="n b" x="-24" y="1602.5">221</text>
<use href="#m" class="c" y="1686"/><text class="b" x="3" y="1696.5">555♂</text>
</g>

<!-- G -->
<g id="col-G" class="t" transform="translate(946,0)">
<line class="pl" x1="-25" y1="558" x2="25" y2="558"/><line class="pl" x1="-25" y1="571" x2="25" y2="571"/>
<text class="pg" y="568">Gペア</text>
<rect class="md" x="-25" y="586" width="22" height="27"/><rect class="md" x="3" y="586" width="22" height="27"/>
<text class="mg" x="-14" y="594">♂</text><text class="mg" x="-14" y="603">28/</text><text class="mg" x="-14" y="611">A</text>
<text class="mg" x="14" y="594">♀</text><text class="mg" x="14" y="603">23/</text><text class="mg" x="14" y="611">B</text>
<use href="#m" class="w" y="627"/><text x="3" y="637.5">97♂</text><use href="#e" class="eg" x="-24" y="634"/><text class="n" x="-24" y="637.5">19</text>
<use href="#m" class="w" y="641"/><text x="3" y="651.5">109♂</text><use href="#e" class="eg" x="-24" y="648"/><text class="n" x="-24" y="651.5">20</text>
<use href="#m" class="r1" y="655"/><text class="v" x="3" y="665.5">110♀</text><use href="#e" class="ek" x="-24" y="662"/><text class="n b" x="-24" y="665.5">03</text>
<use href="#m" class="r1" y="669"/><text class="v" x="3" y="679.5">111♀</text><use href="#e" class="ek" x="-24" y="676"/><text class="n b" x="-24" y="679.5">04</text>
<rect class="cl" x="-18" y="683" width="26" height="12" rx="2"/><text class="b" x="-5" y="692" style="font-size:7px">保護</text>
<use href="#m" class="w" y="708"/><text x="3" y="718.5">119♀</text><use href="#e" class="eg" x="-24" y="715"/><text class="n" x="-24" y="718.5">07</text>
<use href="#m" class="w" y="722"/><text x="3" y="732.5">120♀</text>
<use href="#m" class="w" y="736"/><text x="3" y="746.5">125♂</text>
<use href="#m" class="w" y="791"/><text x="3" y="801.5">136♀</text>
<use href="#m" class="w" y="805"/><text x="3" y="815.5">137♂</text><use href="#e" class="eg" x="-24" y="812"/><text class="n" x="-24" y="815.5">22</text>
<use href="#m" class="w" y="859"/><text x="3" y="869.5">172♂</text><use href="#e" class="eg" x="-24" y="866"/><text class="n" x="-24" y="869.5">28</text>
<use href="#m" class="w" y="873"/><text x="3" y="883.5">183♀</text><use href="#e" class="eg" x="-24" y="880"/><text class="n" x="-24" y="883.5">41</text>
<use href="#m" class="w" y="887"/><text x="3" y="897.5">185♂</text><use href="#e" class="eg" x="-24" y="894"/><text class="n" x="-24" y="897.5">102</text>
<use href="#m" class="r8" y="969"/><text class="v" x="3" y="979.5">208♂</text><use href="#e" class="ek" x="-24" y="976"/><text class="n b" x="-24" y="979.5">136</text>
<use href="#m" class="w" y="983"/><text x="3" y="993.5">209♀</text><use href="#e" class="ed" x="-24" y="990"/><text class="n" x="-24" y="993.5">70</text>
<use href="#m" class="r8" y="997"/><text class="v" x="3" y="1007.5">210♂</text><use href="#e" class="ek" x="-24" y="1004"/><text class="n b" x="-24" y="1007.5">152</text>
<use href="#m" class="w" y="1011"/><text x="3" y="1021.5">215♂</text><use href="#e" class="eg" x="-24" y="1018"/><text class="n" x="-24" y="1021.5">125</text>
<use href="#m" class="w" y="1107"/><text x="3" y="1117.5">240♂</text>
<use href="#m" class="w" y="1121"/><text x="3" y="1131.5">263♀</text><use href="#e" class="ed" x="-24" y="1128"/><text class="n" x="-24" y="1131.5">94</text>
<use href="#m" class="r5" y="1135"/><text class="v" x="3" y="1145.5">272♀</text><use href="#e" class="ek" x="-24" y="1142"/><text class="n b" x="-24" y="1145.5">97</text>
<use href="#m" class="w" y="1149"/><text x="3" y="1159.5">279♀</text><use href="#e" class="ed" x="-24" y="1156"/><text class="n" x="-24" y="1159.5">101</text>
<use href="#m" class="w" y="1190"/><text x="0" y="1200.5">ペア解消</text>
</g>

<!-- I -->
<g id="col-I" class="t" transform="translate(1005,0)">
<rect class="fr" x="-28" y="636" width="54" height="60" rx="6" stroke="#c00000"/>
<rect class="ph" x="-25" y="642" width="50" height="12"/><text class="pt" y="652">Iペア</text><use href="#hr" y="657"/>
<rect class="mr" x="-25" y="667" width="22" height="27"/><rect class="mr" x="3" y="667" width="22" height="27"/>
<text class="mt" x="-14" y="675">♂</text><text class="mt" x="-14" y="684">33/</text><text class="mt" x="-14" y="692">A</text>
<text class="mt" x="14" y="675">♀</text><text class="mt" x="14" y="684">52/</text><text class="mt" x="14" y="692">B</text>
<use href="#m" class="w" y="708"/><text x="3" y="718.5">114♀</text><use href="#e" class="eg" x="-24" y="715"/><text class="n" x="-24" y="718.5">46</text>
<use href="#m" class="w" y="722"/><text x="3" y="732.5">116♂</text><use href="#e" class="eg" x="-24" y="729"/><text class="n" x="-24" y="732.5">06</text>
<use href="#m" class="r2" y="736"/><text class="v" x="3" y="746.5">121♂</text><use href="#e" class="ek" x="-24" y="743"/><text class="n b" x="-24" y="746.5">08</text>
<use href="#m" class="w" y="750"/><text x="3" y="760.5">126♀</text>
<use href="#m" class="w" y="791"/><text x="3" y="801.5">135♀</text><use href="#e" class="ed" x="-24" y="798"/><text class="n" x="-24" y="801.5">37</text>
<use href="#m" class="w" y="805"/><text x="3" y="815.5">140♀</text>
<use href="#m" class="w" y="819"/><text x="3" y="829.5">145♀</text>
<use href="#m" class="w" y="859"/><text x="0" y="869.5">ふ化せず</text>
<use href="#m" class="w" y="969"/><text x="3" y="979.5">206♀</text><use href="#e" class="eg" x="-24" y="976"/><text class="n" x="-24" y="979.5">54</text>
<use href="#m" class="w" y="1107"/><text x="3" y="1117.5">243♀</text><use href="#e" class="eg" x="-24" y="1114"/><text class="n" x="-24" y="1117.5">119</text>
<use href="#m" class="r7" y="1121"/><text class="v" x="3" y="1131.5">244♀</text><use href="#e" class="ek" x="-24" y="1128"/><text class="n b" x="-24" y="1131.5">120</text>
<use href="#m" class="k" y="1135"/><text class="b" x="3" y="1145.5">248♂</text>
<use href="#m" class="w" y="1149"/><text x="3" y="1159.5">254♀</text>
<use href="#m" class="r9" y="1163"/><text class="v" x="3" y="1173.5">284♀</text><use href="#e" class="ek" x="-24" y="1170"/><text class="n b" x="-24" y="1173.5">157</text>
<use href="#m" class="w" y="1218"/><text x="3" y="1228.5">314♀</text><use href="#e" class="eg" x="-24" y="1225"/><text class="n" x="-24" y="1228.5">129</text>
<use href="#m" class="r10" y="1232"/><text class="v" x="3" y="1242.5">320♂</text><use href="#e" class="ek" x="-24" y="1239"/><text class="n b" x="-24" y="1242.5">170</text>
<use href="#m" class="w" y="1246"/><text x="3" y="1256.5">321♀</text><use href="#e" class="eg" x="-24" y="1253"/><text class="n" x="-24" y="1256.5">130</text>
<use href="#m" class="r10" y="1260"/><text class="v" x="3" y="1270.5">324♂</text><use href="#e" class="ek" x="-24" y="1267"/><text class="n b" x="-24" y="1270.5">171</text>
<use href="#m" class="w" y="1274"/><text x="3" y="1284.5">327♀</text><use href="#e" class="eg" x="-24" y="1281"/><text class="n" x="-24" y="1284.5">173</text>
<use href="#m" class="r10" y="1288"/><text class="v" x="3" y="1298.5">338♂</text><use href="#e" class="ek" x="-24" y="1295"/><text class="n b" x="-24" y="1298.5">174</text>
<use href="#m" class="w" y="1302"/><text x="3" y="1312.5">340♀</text><use href="#e" class="eg" x="-24" y="1309"/><text class="n" x="-24" y="1312.5">133</text>
<use href="#m" class="w" y="1316"/><text x="3" y="1326.5">343♀</text>
<use href="#m" class="k bI" y="1342"/><text class="b" x="3" y="1352.5">355♂</text>
<use href="#m" class="r11" y="1356"/><text class="v" x="3" y="1366.5">360♂</text><use href="#e" class="ek" x="-24" y="1363"/><text class="n b" x="-24" y="1366.5">187</text>
<use href="#m" class="w" y="1370"/><text x="3" y="1380.5">361♀</text>
<use href="#m" class="k bI" y="1384"/><text class="b" x="3" y="1394.5">362♂</text>
<use href="#m" class="r13" y="1398"/><text class="v" x="3" y="1408.5">371♀</text><use href="#e" class="ek" x="-24" y="1405"/><text class="n b" x="-24" y="1408.5">224</text>
<use href="#m" class="r13" y="1412"/><text class="v" x="3" y="1422.5">412♀</text><use href="#e" class="ek" x="-24" y="1419"/><text class="n b" x="-24" y="1422.5">227</text>
<use href="#m" class="w" y="1426"/><text x="3" y="1436.5">413♂</text>
<use href="#m" class="k bI" y="1495"/><text class="b" x="3" y="1505.5">417♂</text>
<use href="#m" class="k bI" y="1509"/><text class="b" x="3" y="1519.5">421♂</text>
<use href="#m" class="w" y="1523"/><text x="3" y="1533.5">445♀</text>
<use href="#m" class="r12" y="1537"/><text class="v" x="3" y="1547.5">452♂</text><use href="#e" class="ek" x="-24" y="1544"/><text class="n b" x="-24" y="1547.5">215</text>
<use href="#m" class="k bI" y="1578"/><text class="b" x="3" y="1588.5">477♂</text>
<use href="#m" class="k bI" y="1592"/><text class="b" x="3" y="1602.5">484♀</text>
<use href="#m" class="k bI" y="1606"/><text class="b" x="3" y="1616.5">488♀</text>
<use href="#m" class="c bI" y="1620"/><text class="b" x="3" y="1630.5">504♂</text>
<use href="#m" class="w" y="1634"/><text x="3" y="1644.5">515♀</text>
<use href="#m" class="c bI" y="1686"/><text class="b" x="3" y="1696.5">569♂</text>
</g>

<!-- J -->
<g id="col-J" class="t" transform="translate(1063,0)">
<line class="pl" x1="-25" y1="642" x2="25" y2="642"/><line class="pl" x1="-25" y1="654" x2="25" y2="654"/>
<text class="pg" y="652">Jペア</text>
<rect class="md" x="-25" y="667" width="22" height="27"/><rect class="md" x="3" y="667" width="22" height="27"/>
<text class="mg" x="-14" y="675">♂</text><text class="mg" x="-14" y="684">71/</text><text class="mg" x="-14" y="692">B</text>
<text class="mg" x="14" y="675">♀</text><text class="mg" x="14" y="684">32/</text><text class="mg" x="14" y="692">A</text>
<use href="#m" class="w" y="708"/><text x="3" y="718.5">122♀</text><use href="#e" class="ed" x="-24" y="715"/><text class="n" x="-24" y="718.5">36</text>
<use href="#m" class="w" y="722"/><text x="3" y="732.5">123♂</text><use href="#e" class="eg" x="-24" y="729"/><text class="n" x="-24" y="732.5">09</text>
<use href="#m" class="w" y="736"/><text x="3" y="746.5">127♂</text><use href="#e" class="eg" x="-24" y="743"/><text class="n" x="-24" y="746.5">10</text>
<use href="#m" class="w" y="791"/><text x="0" y="801.5">ふ化せず</text>
<use href="#m" class="w" y="859"/><text x="0" y="869.5">ふ化せず</text>
<use href="#m" class="w" y="969"/><text x="0" y="979.5">ふ化せず</text>
<use href="#m" class="w" y="1079"/><text x="0" y="1089.5">ペア解消</text>
</g>

<!-- K -->
<g id="col-K" class="t" transform="translate(1121,0)">
<rect class="fr" x="-28" y="716" width="54" height="64" rx="6" stroke="#00ff00"/>
<rect class="ph" x="-25" y="721" width="50" height="12"/><text class="pt" y="731">Kペア</text><use href="#hr" y="736"/>
<rect class="mr" x="-25" y="747" width="22" height="28"/><rect class="mr" x="3" y="747" width="22" height="28"/>
<text class="mt" x="-14" y="755">♂</text><text class="mt" x="-14" y="764">34/</text><text class="mt" x="-14" y="773">A</text>
<text class="mt" x="14" y="755">♀</text><text class="mt" x="14" y="764">58/</text><text class="mt" x="14" y="773">B</text>
<use href="#m" class="w" y="791"/><text x="3" y="801.5">151♀</text><use href="#e" class="eg" x="-24" y="798"/><text class="n" x="-24" y="801.5">15</text>
<use href="#m" class="r5" y="805"/><text class="v" x="3" y="815.5">152♂</text><use href="#e" class="ek" x="-24" y="812"/><text class="n b" x="-24" y="815.5">81</text>
<use href="#m" class="w" y="859"/><text x="3" y="869.5">162♀</text><use href="#e" class="ed" x="-24" y="866"/><text class="n" x="-24" y="869.5">39</text>
<use href="#m" class="w" y="873"/><text x="3" y="883.5">167♀</text><use href="#e" class="ed" x="-24" y="880"/><text class="n" x="-24" y="883.5">40</text>
<use href="#m" class="k" y="887"/><text class="b" x="3" y="897.5">171♀</text><use href="#rdm" class="rd" y="887"/><use href="#e" class="ed" x="-24" y="894"/><text class="n" x="-24" y="897.5">27</text>
<use href="#m" class="w" y="901"/><text x="3" y="911.5">176♀</text><use href="#e" class="eg" x="-24" y="908"/><text class="n" x="-24" y="911.5">30</text>
<use href="#m" class="w" y="915"/><text x="3" y="925.5">179♀</text><use href="#e" class="eg" x="-24" y="922"/><text class="n" x="-24" y="925.5">32</text>
<use href="#m" class="r5" y="969"/><text class="v" x="3" y="979.5">196♂</text><use href="#e" class="ek" x="-24" y="976"/><text class="n b" x="-24" y="979.5">86</text>
<use href="#m" class="w" y="983"/><text x="3" y="993.5">197♀</text><use href="#e" class="eg" x="-24" y="990"/><text class="n" x="-24" y="993.5">65</text>
<use href="#m" class="r4" y="997"/><text class="v" x="3" y="1007.5">201♀</text><use href="#e" class="ek" x="-24" y="1004"/><text class="n b" x="-24" y="1007.5">66</text>
<use href="#m" class="r5" y="1011"/><text class="v" x="3" y="1021.5">211♂</text><use href="#e" class="ek" x="-24" y="1018"/><text class="n b" x="-24" y="1021.5">88</text>
<use href="#m" class="r9" y="1025"/><text class="v" x="3" y="1035.5">216♀</text><use href="#e" class="ek" x="-24" y="1032"/><text class="n b" x="-24" y="1035.5">154</text>
<use href="#m" class="r5" y="1039"/><text class="v" x="3" y="1049.5">218♂</text><use href="#e" class="ek" x="-24" y="1046"/><text class="n b" x="-24" y="1049.5">91</text>
<use href="#m" class="w" y="1107"/><text x="3" y="1117.5">236♂</text>
<use href="#m" class="w" y="1121"/><text x="3" y="1131.5">237♀</text>
<use href="#m" class="w" y="1135"/><text x="3" y="1145.5">271♂</text>
<use href="#m" class="w" y="1218"/><text x="3" y="1228.5">313♂</text>
<use href="#m" class="w" y="1232"/><text x="3" y="1242.5">315♂</text><use href="#e" class="eg" x="-24" y="1239"/><text class="n" x="-24" y="1242.5">141</text>
<use href="#m" class="r8" y="1246"/><text class="v" x="3" y="1256.5">319♂</text><use href="#e" class="ek" x="-24" y="1253"/><text class="n b" x="-24" y="1256.5">142</text>
<use href="#m" class="w" y="1260"/><text x="3" y="1270.5">351♀</text>
<use href="#m" class="w" y="1274"/><text x="3" y="1284.5">353♂</text>
<use href="#m" class="w" y="1342"/><text x="3" y="1352.5">363♂</text>
<use href="#m" class="w" y="1356"/><text x="3" y="1366.5">398♀</text>
<use href="#m" class="r11" y="1495"/><text class="v" x="3" y="1505.5">419♀</text><use href="#e" class="ek" x="-24" y="1502"/><text class="n b" x="-24" y="1505.5">202</text>
<use href="#m" class="r13" y="1509"/><text class="v" x="3" y="1519.5">451♂</text><use href="#e" class="ek" x="-24" y="1516"/><text class="n b" x="-24" y="1519.5">233</text>
<use href="#m" class="y bT" y="1578"/><text class="b" x="3" y="1588.5">513♀</text>
<use href="#m" class="k bT" y="1592"/><text class="b" x="3" y="1602.5">514♂</text>
<use href="#m" class="w" y="1606"/><text x="3" y="1616.5">520♀</text>
<use href="#m" class="w" y="1620"/><text x="3" y="1630.5">526♀</text>
<use href="#m" class="c bT" y="1686"/><text class="b" x="3" y="1696.5">548♀</text>
<use href="#m" class="c bT" y="1700"/><text class="b" x="3" y="1710.5">552♂</text>
<use href="#m" class="c bT" y="1714"/><text class="b" x="3" y="1724.5">556♂</text>
</g>

<!-- L -->
<g id="col-L" class="t" transform="translate(1180,0)">
<line class="pl" x1="-25" y1="721" x2="25" y2="721"/><line class="pl" x1="-25" y1="733" x2="25" y2="733"/>
<text class="pg" y="731">Lペア</text>
<rect class="md" x="-25" y="748" width="22" height="28"/><rect class="md" x="3" y="748" width="22" height="28"/>
<text class="mg" x="-14" y="756">♂</text><text class="mg" x="-14" y="765">62/</text><text class="mg" x="-14" y="774">B</text>
<text class="mg" x="14" y="756">♀</text><text class="mg" x="14" y="765">50/</text><text class="mg" x="14" y="774">A</text>
<use href="#m" class="w" y="791"/><text x="3" y="801.5">141♀</text><use href="#e" class="eg" x="-24" y="798"/><text class="n" x="-24" y="801.5">13</text>
<use href="#m" class="w" y="805"/><text x="3" y="815.5">142♂</text><use href="#e" class="eg" x="-24" y="812"/><text class="n" x="-24" y="815.5">63</text>
<use href="#m" class="w" y="859"/><text x="3" y="869.5">155♂</text><use href="#e" class="eg" x="-24" y="866"/><text class="n" x="-24" y="869.5">82</text>
<use href="#m" class="w" y="873"/><text x="3" y="883.5">156♂</text><use href="#e" class="eg" x="-24" y="880"/><text class="n" x="-24" y="883.5">52</text>
<use href="#m" class="w" y="887"/><text x="3" y="897.5">160♂</text><use href="#e" class="eg" x="-24" y="894"/><text class="n" x="-24" y="897.5">64</text>
<use href="#m" class="w" y="901"/><text x="3" y="911.5">173♀</text><use href="#e" class="eg" x="-24" y="908"/><text class="n" x="-24" y="911.5">29</text>
<use href="#m" class="w" y="943"/><text x="0" y="953.5">ペア解消</text>
</g>

<!-- M -->
<g id="col-M" class="t" transform="translate(1237,0)">
<line class="pl" x1="-25" y1="721" x2="25" y2="721"/><line class="pl" x1="-25" y1="733" x2="25" y2="733"/>
<text class="pg" y="731">Mペア</text>
<rect class="md" x="-25" y="748" width="22" height="28"/><rect class="md" x="3" y="748" width="22" height="28"/>
<text class="mg" x="-14" y="756">♂</text><text class="mg" x="-14" y="765">80/</text><text class="mg" x="-14" y="774">B</text>
<text class="mg" x="14" y="756">♀</text><text class="mg" x="14" y="765">36/</text><text class="mg" x="14" y="774">A</text>
<use href="#m" class="w" y="791"/><text x="3" y="801.5">138♀</text>
<use href="#m" class="r2" y="859"/><text class="v" x="3" y="869.5">159♂</text><use href="#e" class="ek" x="-24" y="866"/><text class="n b" x="-24" y="869.5">23</text>
<use href="#m" class="w" y="873"/><text x="3" y="883.5">165♂</text><use href="#e" class="eg" x="-24" y="880"/><text class="n" x="-24" y="883.5">24</text>
<use href="#m" class="w" y="887"/><text x="3" y="897.5">181♀</text><use href="#e" class="eg" x="-24" y="894"/><text class="n" x="-24" y="897.5">83</text>
<use href="#m" class="r9" y="969"/><text class="v" x="3" y="979.5">199♀</text><use href="#rdm" class="bd" y="969"/><use href="#e" class="ek" x="-24" y="976"/><text class="n b" x="-24" y="979.5">153</text>
<use href="#m" class="r4" y="983"/><text class="v" x="3" y="993.5">203♂</text><use href="#e" class="ek" x="-24" y="990"/><text class="n b" x="-24" y="993.5">67</text>
<use href="#m" class="r4" y="997"/><text class="v" x="3" y="1007.5">204♂</text><use href="#e" class="ek" x="-24" y="1004"/><text class="n b" x="-24" y="1007.5">68</text>
<use href="#m" class="r4" y="1011"/><text class="v" x="3" y="1021.5">207♂</text><use href="#e" class="ek" x="-24" y="1018"/><text class="n b" x="-24" y="1021.5">71</text>
<use href="#m" class="r4" y="1025"/><text class="v" x="3" y="1035.5">223♂</text><use href="#e" class="ek" x="-24" y="1032"/><text class="n b" x="-24" y="1035.5">72</text>
<use href="#m" class="w" y="1039"/><text x="3" y="1049.5">224♀</text><use href="#e" class="eg" x="-24" y="1046"/><text class="n" x="-24" y="1049.5">155</text>
<use href="#m" class="w" y="1053"/><text x="3" y="1063.5">225♂</text><use href="#e" class="eg" x="-24" y="1060"/><text class="n" x="-24" y="1063.5">73</text>
<use href="#m" class="r4" y="1067"/><text class="v" x="3" y="1077.5">230♂</text><use href="#e" class="ek" x="-24" y="1074"/><text class="n b" x="-24" y="1077.5">74</text>
<use href="#m" class="r5" y="1081"/><text class="v" x="3" y="1091.5">231♀</text><use href="#e" class="ek" x="-24" y="1088"/><text class="n b" x="-24" y="1091.5">93</text>
<use href="#m" class="y" y="1107"/><text class="b" x="3" y="1117.5">250♂</text><use href="#rdm" class="bd" y="1107"/><use href="#e" class="ek" x="-24" y="1114"/><text class="n b" x="-24" y="1117.5">75</text>
<use href="#m" class="r6" y="1121"/><text class="v" x="3" y="1131.5">251♂</text><use href="#e" class="ek" x="-24" y="1128"/><text class="n b" x="-24" y="1131.5">107</text>
<use href="#m" class="w" y="1135"/><text x="3" y="1145.5">256♀</text><use href="#e" class="eg" x="-24" y="1142"/><text class="n" x="-24" y="1145.5">59</text>
<use href="#m" class="w" y="1149"/><text x="3" y="1159.5">257♂</text><use href="#e" class="eg" x="-24" y="1156"/><text class="n" x="-24" y="1159.5">76</text>
<use href="#m" class="r5" y="1163"/><text class="v" x="3" y="1173.5">264♀</text><use href="#e" class="ek" x="-24" y="1170"/><text class="n b" x="-24" y="1173.5">95</text>
<use href="#m" class="r10" y="1218"/><text class="v" x="3" y="1228.5">325♂</text><use href="#e" class="ek" x="-24" y="1225"/><text class="n b" x="-24" y="1228.5">172</text>
<use href="#m" class="r10" y="1342"/><text class="v" x="3" y="1352.5">391♂</text><use href="#e" class="ek" x="-24" y="1349"/><text class="n b" x="-24" y="1352.5">179</text>
<use href="#m" class="w" y="1356"/><text x="3" y="1366.5">395♀</text>
<use href="#m" class="w" y="1468"/><text x="0" y="1478.5">ペア解消</text>
</g>

<!-- N -->
<g id="col-N" class="t" transform="translate(1294,0)">
<rect class="fr" x="-29" y="783" width="54" height="66" rx="6" stroke="#ff66cc"/>
<rect class="ph" x="-25" y="792" width="50" height="12"/><text class="pt" y="802">Nペア</text><use href="#hr" y="807"/>
<rect class="mr" x="-25" y="818" width="22" height="28"/><rect class="mr" x="3" y="818" width="22" height="28"/>
<text class="mt" x="-14" y="826">♂</text><text class="mt" x="-14" y="835">37/</text><text class="mt" x="-14" y="844">A</text>
<text class="mt" x="14" y="826">♀</text><text class="mt" x="14" y="835">68/</text><text class="mt" x="14" y="844">B</text>
<use href="#m" class="r2" y="859"/><text class="v" x="3" y="869.5">184♂</text><use href="#e" class="ek" x="-24" y="866"/><text class="n b" x="-24" y="869.5">33</text>
<use href="#m" class="r5" y="969"/><text class="v" x="3" y="979.5">194♂</text><use href="#e" class="ek" x="-24" y="976"/><text class="n b" x="-24" y="979.5">85</text>
<use href="#m" class="w" y="983"/><text x="3" y="993.5">200♀</text><use href="#e" class="eg" x="-24" y="990"/><text class="n" x="-24" y="993.5">53</text>
<use href="#m" class="r4" y="1107"/><text class="v" x="3" y="1117.5">294♀</text><use href="#e" class="ek" x="-24" y="1114"/><text class="n b" x="-24" y="1117.5">80</text>
<use href="#m" class="w" y="1121"/><text x="3" y="1131.5">296♂</text>
<use href="#m" class="r8" y="1218"/><text class="v" x="3" y="1228.5">299♂</text><use href="#e" class="ek" x="-24" y="1225"/><text class="n b" x="-24" y="1228.5">137</text>
<use href="#m" class="r9" y="1232"/><text class="v" x="3" y="1242.5">300♀</text><use href="#e" class="ek" x="-24" y="1239"/><text class="n b" x="-24" y="1242.5">127</text>
<use href="#m" class="r8" y="1246"/><text class="v" x="3" y="1256.5">303♂</text><use href="#e" class="ek" x="-24" y="1253"/><text class="n b" x="-24" y="1256.5">138</text>
<use href="#m" class="w" y="1260"/><text x="3" y="1270.5">306♂</text><use href="#e" class="eg" x="-24" y="1267"/><text class="n" x="-24" y="1270.5">128</text>
<use href="#m" class="r8" y="1274"/><text class="v" x="3" y="1284.5">326♂</text><use href="#e" class="ek" x="-24" y="1281"/><text class="n b" x="-24" y="1284.5">143</text>
<use href="#m" class="w" y="1288"/><text x="3" y="1298.5">330♂</text><use href="#e" class="eg" x="-24" y="1295"/><text class="n" x="-24" y="1298.5">131</text>
<use href="#m" class="r11" y="1342"/><text class="v" x="3" y="1352.5">406♂</text><use href="#e" class="ek" x="-24" y="1349"/><text class="n b" x="-24" y="1352.5">200</text>
<use href="#m" class="r13" y="1495"/><text class="v" x="3" y="1505.5">459♀</text><use href="#e" class="ek" x="-24" y="1502"/><text class="n b" x="-24" y="1505.5">235</text>
<use href="#m" class="r12" y="1509"/><text class="v" x="3" y="1519.5">460♂</text><use href="#e" class="ek" x="-24" y="1516"/><text class="n b" x="-24" y="1519.5">216</text>
<use href="#m" class="k bN" y="1578"/><text class="b" x="3" y="1588.5">471</text>
<use href="#m" class="w" y="1686"/><text x="0" y="1696.5">ふ化せず</text>
</g>

<!-- O -->
<g id="col-O" class="t" transform="translate(1352,0)">
<line class="pl" x1="-25" y1="792" x2="25" y2="792"/><line class="pl" x1="-25" y1="804" x2="25" y2="804"/>
<text class="pg" y="802">Oペア</text>
<rect class="md" x="-25" y="818" width="22" height="28"/><rect class="md" x="3" y="818" width="22" height="28"/>
<text class="mg" x="-14" y="826">♂</text><text class="mg" x="-14" y="835">39/</text><text class="mg" x="-14" y="844">A</text>
<text class="mg" x="14" y="826">♀</text><text class="mg" x="14" y="835">100/</text><text class="mg" x="14" y="844">B</text>
<use href="#m" class="w" y="859"/><text x="0" y="869.5">ふ化せず</text>
<use href="#m" class="r5" y="969"/><text class="v" x="3" y="979.5">205♂</text><use href="#e" class="ek" x="-24" y="976"/><text class="n b" x="-24" y="979.5">87</text>
<use href="#m" class="w" y="1107"/><text x="0" y="1117.5">ふ化せず</text>
<use href="#m" class="w" y="1190"/><text x="0" y="1200.5">ペア解消</text>
</g>

<!-- P -->
<g id="col-P" class="t" transform="translate(1411,0)">
<rect class="ph" x="-25" y="792" width="50" height="12"/><text class="pt" y="802">Pペア</text><use href="#hr" y="807"/>
<rect class="mr" x="-25" y="818" width="22" height="28"/><rect class="mr" x="3" y="818" width="22" height="28"/>
<text class="mt" x="-14" y="826">♂</text><text class="mt" x="-14" y="835">96/</text><text class="mt" x="-14" y="844">B</text>
<text class="mt" x="14" y="826">♀</text><text class="mt" x="14" y="835">53/</text><text class="mt" x="14" y="844">A</text>
<use href="#m" class="w" y="859"/><text x="3" y="869.5">168</text>
<use href="#m" class="r2" y="873"/><text class="v" x="3" y="883.5">169♀</text><use href="#e" class="ek" x="-24" y="880"/><text class="n b" x="-24" y="883.5">25</text>
<use href="#m" class="r2" y="887"/><text class="v" x="3" y="897.5">170♀</text><use href="#e" class="ek" x="-24" y="894"/><text class="n b" x="-24" y="897.5">26</text>
<use href="#m" class="w" y="969"/><text x="3" y="979.5">186♂</text><use href="#e" class="ed" x="-24" y="976"/><text class="n" x="-24" y="979.5">42</text>
<use href="#m" class="w" y="983"/><text x="3" y="993.5">187♂</text><use href="#e" class="ed" x="-24" y="990"/><text class="n" x="-24" y="993.5">43</text>
<use href="#m" class="r5" y="997"/><text class="v" x="3" y="1007.5">188♂</text><use href="#e" class="ek" x="-24" y="1004"/><text class="n b" x="-24" y="1007.5">84</text>
<use href="#m" class="w" y="1011"/><text x="3" y="1021.5">189♂</text>
<use href="#m" class="w" y="1107"/><text x="3" y="1117.5">232♀</text><use href="#e" class="eg" x="-24" y="1114"/><text class="n" x="-24" y="1117.5">118</text>
<use href="#m" class="r6" y="1121"/><text class="v" x="3" y="1131.5">233♂</text><use href="#e" class="ek" x="-24" y="1128"/><text class="n b" x="-24" y="1131.5">105</text>
<use href="#m" class="r6" y="1135"/><text class="v" x="3" y="1145.5">234♂</text><use href="#e" class="ek" x="-24" y="1142"/><text class="n b" x="-24" y="1145.5">106</text>
<use href="#m" class="r13" y="1149"/><text class="v" x="3" y="1159.5">235♀</text><use href="#e" class="ek" x="-24" y="1156"/><text class="n b" x="-24" y="1159.5">222</text>
<use href="#m" class="w" y="1163"/><text x="3" y="1173.5">242♂</text><use href="#e" class="eg" x="-24" y="1170"/><text class="n" x="-24" y="1173.5">55</text>
<use href="#m" class="w" y="1177"/><text x="3" y="1187.5">246♂</text><use href="#e" class="eg" x="-24" y="1184"/><text class="n" x="-24" y="1187.5">56</text>
<use href="#m" class="w" y="1191"/><text x="3" y="1201.5">252♂</text><use href="#e" class="eg" x="-24" y="1198"/><text class="n" x="-24" y="1201.5">58</text>
<use href="#m" class="w" y="1218"/><text x="3" y="1228.5">298♀</text>
<use href="#m" class="r10" y="1232"/><text class="v" x="3" y="1242.5">346♂</text><use href="#e" class="ek" x="-24" y="1239"/><text class="n b" x="-24" y="1242.5">175</text>
<use href="#m" class="w" y="1246"/><text x="3" y="1256.5">347♀</text>
<use href="#m" class="r8" y="1342"/><text class="v" x="3" y="1352.5">354♂</text><use href="#e" class="ek" x="-24" y="1349"/><text class="n b" x="-24" y="1352.5">147</text>
<use href="#m" class="r11" y="1356"/><text class="v" x="3" y="1366.5">356♂</text><use href="#e" class="ek" x="-24" y="1363"/><text class="n b" x="-24" y="1366.5">192</text>
<use href="#m" class="r11" y="1370"/><text class="v" x="3" y="1380.5">359♂</text><use href="#e" class="ek" x="-24" y="1377"/><text class="n b" x="-24" y="1380.5">195</text>
<use href="#m" class="c" y="1495"/><text class="b" x="3" y="1505.5">465♂</text>
<use href="#m" class="w" y="1578"/><text x="0" y="1588.5">ふ化せず</text>
<use href="#m" class="w" y="1790"/><text x="0" y="1800.5">ペア解消</text>
</g>

<!-- S -->
<g id="col-S" class="t" transform="translate(1469,0)">
<line class="pl" x1="-25" y1="903" x2="25" y2="903"/><line class="pl" x1="-25" y1="915" x2="25" y2="915"/>
<text class="pg" y="913">Sペア</text>
<rect class="md" x="-25" y="928" width="22" height="28"/><rect class="md" x="3" y="928" width="22" height="28"/>
<text class="mg" x="-14" y="936">♂</text><text class="mg" x="-14" y="945">35/</text><text class="mg" x="-14" y="954">B</text>
<text class="mg" x="14" y="936">♀</text><text class="mg" x="14" y="945">104/</text><text class="mg" x="14" y="954">A</text>
<use href="#m" class="r5" y="969"/><text class="v" x="3" y="979.5">214♂</text><use href="#e" class="ek" x="-24" y="976"/><text class="n b" x="-24" y="979.5">90</text>
<use href="#m" class="r7" y="1107"/><text class="v" x="3" y="1117.5">255♀</text><use href="#e" class="ek" x="-24" y="1114"/><text class="n b" x="-24" y="1117.5">122</text>
<use href="#m" class="w" y="1190"/><text x="0" y="1200.5">ペア解消</text>
</g>

<!-- T -->
<g id="col-T" class="t" transform="translate(1526,0)">
<rect class="fr" x="-28" y="894" width="55" height="63" rx="6" stroke="#0000ff"/>
<rect class="ph" x="-25" y="903" width="50" height="12"/><text class="pt" y="913">Tペア</text><use href="#hr" y="918"/>
<rect class="mr" x="-25" y="928" width="22" height="28"/><rect class="mr" x="3" y="928" width="22" height="28"/>
<text class="mt" x="-14" y="936">♂</text><text class="mt" x="-14" y="945">86/</text><text class="mt" x="-14" y="954">A</text>
<text class="mt" x="14" y="936">♀</text><text class="mt" x="14" y="945">115/</text><text class="mt" x="14" y="954">B</text>
<use href="#m" class="w" y="969"/><text x="0" y="979.5">卵産まず</text>
<use href="#m" class="w" y="1107"/><text x="3" y="1117.5">275♀</text>
<use href="#m" class="r5" y="1121"/><text class="v" x="3" y="1131.5">276♂</text><use href="#e" class="ek" x="-24" y="1128"/><text class="n b" x="-24" y="1131.5">98</text>
<use href="#m" class="r4" y="1135"/><text class="v" x="3" y="1145.5">280♀</text><use href="#e" class="ek" x="-24" y="1142"/><text class="n b" x="-24" y="1145.5">78</text>
<use href="#m" class="w" y="1218"/><text x="3" y="1228.5">309♀</text><use href="#e" class="eg" x="-24" y="1225"/><text class="n" x="-24" y="1228.5">113</text>
<use href="#m" class="r9" y="1232"/><text class="v" x="3" y="1242.5">318♂</text><use href="#e" class="ek" x="-24" y="1239"/><text class="n b" x="-24" y="1242.5">161</text>
<use href="#m" class="w" y="1246"/><text x="3" y="1256.5">323♂</text><use href="#e" class="eg" x="-24" y="1253"/><text class="n" x="-24" y="1256.5">162</text>
<use href="#m" class="w" y="1342"/><text x="0" y="1352.5">ふ化せず</text>
<use href="#m" class="r12" y="1495"/><text class="v" x="3" y="1505.5">431♂</text><use href="#e" class="ek" x="-24" y="1502"/><text class="n b" x="-24" y="1505.5">182</text>
<use href="#m" class="r12" y="1509"/><text class="v" x="3" y="1519.5">433♀</text><use href="#e" class="ek" x="-24" y="1516"/><text class="n b" x="-24" y="1519.5">211</text>
<use href="#m" class="r10" y="1523"/><text class="v" x="3" y="1533.5">436♀</text><use href="#e" class="ek" x="-24" y="1530"/><text class="n b" x="-24" y="1533.5">183</text>
<use href="#m" class="r10" y="1537"/><text class="v" x="3" y="1547.5">449♀</text><use href="#e" class="ek" x="-24" y="1544"/><text class="n b" x="-24" y="1547.5">184</text>
<use href="#m" class="r11" y="1578"/><text class="v" x="3" y="1588.5">475♀</text><use href="#e" class="ek" x="-24" y="1585"/><text class="n b" x="-24" y="1588.5">239</text>
<use href="#m" class="w" y="1592"/><text x="3" y="1602.5">482♀</text>
<use href="#m" class="w" y="1606"/><text x="3" y="1616.5">490♂</text>
<use href="#m" class="w" y="1790"/><text x="0" y="1800.5">ペア解消</text>
</g>

<!-- U -->
<g id="col-U" class="t" transform="translate(1584,0)">
<rect class="fr" x="-27" y="894" width="54" height="63" rx="6" stroke="#0000ff"/>
<rect class="ph" x="-25" y="903" width="50" height="12"/><text class="pt" y="913">Uペア</text><use href="#hr" y="918"/>
<rect class="mr" x="-25" y="928" width="22" height="28"/><rect class="mr" x="3" y="928" width="22" height="28"/>
<text class="mt" x="-14" y="936">♂</text><text class="mt" x="-14" y="945">106/</text><text class="mt" x="-14" y="954">B</text>
<text class="mt" x="14" y="936">♀</text><text class="mt" x="14" y="945">129/</text><text class="mt" x="14" y="954">A</text>
<use href="#m" class="r4" y="969"/><text class="v" x="3" y="979.5">217♀</text><use href="#e" class="ek" x="-24" y="976"/><text class="n b" x="-24" y="979.5">69</text>
<use href="#m" class="r5" y="983"/><text class="v" x="3" y="993.5">220♂</text><use href="#e" class="ek" x="-24" y="990"/><text class="n b" x="-24" y="993.5">92</text>
<use href="#m" class="r6" y="1107"/><text class="v" x="3" y="1117.5">266♂</text><use href="#e" class="ek" x="-24" y="1114"/><text class="n b" x="-24" y="1117.5">108</text>
<use href="#m" class="r6" y="1121"/><text class="v" x="3" y="1131.5">274♂</text><use href="#e" class="ek" x="-24" y="1128"/><text class="n b" x="-24" y="1131.5">110</text>
<use href="#m" class="w" y="1218"/><text x="3" y="1228.5">310♀</text><use href="#e" class="eg" x="-24" y="1225"/><text class="n" x="-24" y="1228.5">159</text>
<use href="#m" class="r10" y="1232"/><text class="v" x="3" y="1242.5">312♂</text><use href="#e" class="ek" x="-24" y="1239"/><text class="n b" x="-24" y="1242.5">169</text>
<use href="#m" class="r12" y="1342"/><text class="v" x="3" y="1352.5">365♂</text><use href="#e" class="ek" x="-24" y="1349"/><text class="n b" x="-24" y="1352.5">176</text>
<use href="#m" class="r11" y="1356"/><text class="v" x="3" y="1366.5">373♀</text><use href="#e" class="ek" x="-24" y="1363"/><text class="n b" x="-24" y="1366.5">149</text>
<use href="#m" class="r11" y="1370"/><text class="v" x="3" y="1380.5">383♂</text><use href="#e" class="ek" x="-24" y="1377"/><text class="n b" x="-24" y="1380.5">188</text>
<use href="#m" class="w" y="1495"/><text x="0" y="1505.5">ふ化せず</text>
<use href="#m" class="k bB" y="1578"/><text class="b" x="3" y="1588.5">507</text>
<use href="#m" class="c bB" y="1592"/><text class="b" x="3" y="1602.5">511</text>
<use href="#m" class="c bB" y="1686"/><text class="b" x="3" y="1696.5">544</text>
</g>

<!-- V -->
<g id="col-V" class="t" transform="translate(1644,0)">
<line class="pl" x1="-25" y1="903" x2="25" y2="903"/><line class="pl" x1="-25" y1="915" x2="25" y2="915"/>
<text class="pg" y="913">Vペア</text>
<rect class="md" x="-25" y="928" width="22" height="28"/><rect class="md" x="3" y="928" width="22" height="28"/>
<text class="mg" x="-14" y="936">♂</text><text class="mg" x="-14" y="945">62/</text><text class="mg" x="-14" y="954">B</text>
<text class="mg" x="14" y="936">♀</text><text class="mg" x="14" y="945">26/</text><text class="mg" x="14" y="954">A</text>
<use href="#m" class="w" y="969"/><text x="0" y="979.5">ふ化せず</text>
<use href="#m" class="w" y="1107"/><text x="0" y="1117.5">ふ化せず</text>
<use href="#m" class="w" y="1190"/><text x="0" y="1200.5">ペア解消</text>
</g>

<!-- W -->
<g id="col-W" class="t" transform="translate(1701,0)">
<line class="pl" x1="-25" y1="1039" x2="25" y2="1039"/><line class="pl" x1="-25" y1="1051" x2="25" y2="1051"/>
<text class="pg" y="1049">Wペア</text>
<rect class="mgs" x="-25" y="1066" width="22" height="27"/><rect class="mgs" x="3" y="1066" width="22" height="27"/>
<text class="mg" x="-14" y="1074">♂</text><text class="mg" x="-14" y="1083">71/</text><text class="mg" x="-14" y="1091">B</text>
<text class="mg" x="14" y="1074">♀</text><text class="mg" x="14" y="1083">87/</text><text class="mg" x="14" y="1091">A</text>
<use href="#m" class="w" y="1107"/><text x="3" y="1117.5">267♀</text><use href="#e" class="eg" x="-24" y="1114"/><text class="n" x="-24" y="1117.5">77</text>
<use href="#m" class="r11" y="1121"/><text class="v" x="3" y="1131.5">273♀</text><use href="#e" class="ek" x="-24" y="1128"/><text class="n b" x="-24" y="1131.5">190</text>
<use href="#m" class="w" y="1135"/><text x="3" y="1145.5">281♂</text><use href="#e" class="eg" x="-24" y="1142"/><text class="n" x="-24" y="1145.5">111</text>
<use href="#m" class="r4" y="1149"/><text class="v" x="3" y="1159.5">282♀</text><use href="#e" class="ek" x="-24" y="1156"/><text class="n b" x="-24" y="1159.5">79</text>
<use href="#m" class="o" y="1218"/><text x="3" y="1228.5">302♂</text>
<use href="#m" class="w" y="1232"/><text x="3" y="1242.5">305♂</text><use href="#e" class="eg" x="-24" y="1239"/><text class="n" x="-24" y="1242.5">165</text>
<use href="#m" class="r10" y="1246"/><text class="v" x="3" y="1256.5">308♂</text><use href="#e" class="ek" x="-24" y="1253"/><text class="n b" x="-24" y="1256.5">168</text>
<use href="#m" class="w" y="1320"/><text x="0" y="1330.5">ペア解消</text>
</g>

<!-- X -->
<g id="col-X" class="t" transform="translate(1760,0)">
<line class="pl" x1="-25" y1="1038" x2="25" y2="1038"/><line class="pl" x1="-25" y1="1052" x2="25" y2="1052"/>
<text class="pg" y="1049">Xペア</text>
<rect class="mgs" x="-25" y="1065" width="22" height="28"/><rect class="mgs" x="3" y="1065" width="22" height="28"/>
<text class="mg" x="-14" y="1073">♂</text><text class="mg" x="-14" y="1082">88/</text><text class="mg" x="-14" y="1091">A</text>
<text class="mg" x="14" y="1073">♀</text><text class="mg" x="14" y="1082">139/</text><text class="mg" x="14" y="1091">B</text>
<use href="#m" class="w" y="1107"/><text x="3" y="1117.5">262♀</text><use href="#e" class="eg" x="-24" y="1114"/><text class="n" x="-24" y="1117.5">123</text>
<use href="#m" class="r10" y="1121"/><text class="v" x="3" y="1131.5">270♂</text><use href="#e" class="ek" x="-24" y="1128"/><text class="n b" x="-24" y="1131.5">167</text>
<use href="#m" class="w" y="1135"/><text x="3" y="1145.5">278♂</text><use href="#e" class="eg" x="-24" y="1142"/><text class="n" x="-24" y="1145.5">109</text>
<use href="#m" class="w" y="1149"/><text x="3" y="1159.5">295♀</text><use href="#e" class="eg" x="-24" y="1156"/><text class="n" x="-24" y="1159.5">166</text>
<use href="#m" class="r11" y="1218"/><text class="v" x="3" y="1228.5">301♂</text><use href="#e" class="ek" x="-24" y="1225"/><text class="n b" x="-24" y="1228.5">186</text>
<use href="#m" class="w" y="1342"/><text x="3" y="1352.5">364♂</text>
<use href="#m" class="r13" y="1356"/><text class="v" x="3" y="1366.5">376♀</text><use href="#e" class="ek" x="-24" y="1363"/><text class="n b" x="-24" y="1366.5">225</text>
<use href="#m" class="w" y="1466"/><text x="0" y="1476.5">ペア解消</text>
</g>

<!-- Y -->
<g id="col-Y" class="t" transform="translate(1818,0)">
<rect class="fr" x="-29" y="1033" width="54" height="62" rx="6" stroke="#ff9900"/>
<rect class="ph" x="-25" y="1038" width="50" height="14"/><text class="pt" y="1049">Yペア</text><use href="#hr" y="1055"/>
<rect class="mr" x="-25" y="1065" width="22" height="28"/><rect class="mr" x="3" y="1065" width="22" height="28"/>
<text class="mt" x="-14" y="1073">♂</text><text class="mt" x="-14" y="1082">164/</text><text class="mt" x="-14" y="1091">Q</text>
<text class="mt" x="14" y="1073">♀</text><text class="mt" x="14" y="1082">163/</text><text class="mt" x="14" y="1091">B</text>
<use href="#m" class="o" y="1107"/><text x="3" y="1117.5">238♂</text>
<use href="#m" class="o" y="1121"/><text x="3" y="1131.5">241 ♀</text>
<use href="#m" class="w" y="1135"/><text x="3" y="1145.5">289♂</text><use href="#e" class="eg" x="-24" y="1142"/><text class="n" x="-24" y="1145.5">124</text>
<use href="#m" class="r13" y="1149"/><text class="v" x="3" y="1159.5">290 ♀</text><use href="#e" class="ek" x="-24" y="1156"/><text class="n b" x="-24" y="1159.5">223</text>
<use href="#m" class="w" y="1163"/><text x="3" y="1173.5">291♂</text><use href="#e" class="eg" x="-24" y="1170"/><text class="n" x="-24" y="1173.5">117</text>
<use href="#m" class="r9" y="1177"/><text class="v" x="3" y="1187.5">293♀</text><use href="#e" class="ek" x="-24" y="1184"/><text class="n b" x="-24" y="1187.5">158</text>
<use href="#m" class="w" y="1218"/><text x="3" y="1228.5">311♀</text><use href="#e" class="eg" x="-24" y="1225"/><text class="n" x="-24" y="1228.5">160</text>
<use href="#m" class="o" y="1232"/><text x="3" y="1242.5">316♂</text>
<use href="#m" class="w" y="1246"/><text x="3" y="1256.5">317♂</text>
<use href="#m" class="o" y="1260"/><text x="3" y="1270.5">322♂</text>
<use href="#m" class="o" y="1342"/><text x="3" y="1352.5">368♂</text>
<use href="#m" class="w" y="1356"/><text x="3" y="1366.5">369♂</text>
<use href="#m" class="o" y="1370"/><text x="3" y="1380.5">380♂</text>
<use href="#m" class="w" y="1384"/><text x="3" y="1394.5">384♀</text><use href="#e" class="eg" x="-24" y="1391"/><text class="n" x="-24" y="1394.5">198</text>
<use href="#m" class="k bY" y="1398"/><text class="b" x="3" y="1408.5">389♂</text>
<use href="#m" class="k bY" y="1412"/><text class="b" x="3" y="1422.5">397♂</text>
<use href="#m" class="w" y="1426"/><text x="3" y="1436.5">404♂</text>
<use href="#m" class="w" y="1440"/><text x="3" y="1450.5">405♀</text>
<use href="#m" class="r11" y="1454"/><text class="v" x="3" y="1464.5">407♀</text><use href="#e" class="ek" x="-24" y="1461"/><text class="n b" x="-24" y="1464.5">201</text>
<use href="#m" class="r12" y="1468"/><text class="v" x="3" y="1478.5">409♂</text><use href="#e" class="ek" x="-24" y="1475"/><text class="n b" x="-24" y="1478.5">206</text>
<use href="#m" class="k bY" y="1495"/><text class="b" x="3" y="1505.5">441♂</text>
<use href="#m" class="k bY" y="1509"/><text class="b" x="3" y="1519.5">448♀</text>
<use href="#m" class="k bY" y="1578"/><text class="b" x="3" y="1588.5">486</text>
<use href="#m" class="k bY" y="1592"/><text class="b" x="3" y="1602.5">493</text>
<use href="#m" class="k bY" y="1606"/><text class="b" x="3" y="1616.5">502</text>
<use href="#m" class="y bY" y="1686"/><text class="b" x="3" y="1696.5">547</text>
</g>

<!-- Z -->
<g id="col-Z" class="t" transform="translate(1875,0)">
<rect class="fr" x="-28" y="1033" width="55" height="62" rx="6" stroke="#00ff00"/>
<rect class="ph" x="-25" y="1038" width="50" height="14"/><text class="pt" y="1049">Zペア</text><use href="#hr" y="1055"/>
<rect class="mr" x="-25" y="1065" width="22" height="28"/><rect class="mr" x="3" y="1065" width="22" height="28"/>
<text class="mt" x="-14" y="1073">♂</text><text class="mt" x="-14" y="1082">182/</text><text class="mt" x="-14" y="1091">Q</text>
<text class="mt" x="14" y="1073">♀</text><text class="mt" x="14" y="1082">157/</text><text class="mt" x="14" y="1091">B</text>
<use href="#m" class="o" y="1107"/><text x="3" y="1117.5">283♂</text>
<use href="#m" class="o" y="1121"/><text x="3" y="1131.5">286♀</text>
<use href="#m" class="w" y="1135"/><text x="3" y="1145.5">287♀</text>
<use href="#m" class="o" y="1149"/><text x="3" y="1159.5">288♀</text>
<use href="#m" class="r11" y="1218"/><text class="v" x="3" y="1228.5">344♀</text><use href="#e" class="ek" x="-24" y="1225"/><text class="n b" x="-24" y="1228.5">191</text>
<use href="#m" class="y" y="1342"/><text class="b" x="3" y="1352.5">400♂</text>
<use href="#m" class="w" y="1356"/><text x="3" y="1366.5">402♀</text>
<use href="#m" class="w" y="1495"/><text x="3" y="1505.5">443♂</text>
<use href="#m" class="r11" y="1509"/><text class="v" x="3" y="1519.5">450♀</text><use href="#e" class="ek" x="-24" y="1516"/><text class="n b" x="-24" y="1519.5">232</text>
<use href="#m" class="w" y="1578"/><text x="0" y="1588.5">ふ化せず</text>
</g>

<!-- AB -->
<g id="col-AB" class="t" transform="translate(1930,0)">
<line class="pl" x1="-25" y1="1147" x2="25" y2="1147"/><line class="pl" x1="-25" y1="1162" x2="25" y2="1162"/>
<text class="pg" y="1159">ABペア</text>
<rect class="mgs" x="-25" y="1175" width="22" height="28"/><rect class="mgs" x="3" y="1175" width="22" height="28"/>
<text class="mg" x="-14" y="1183">♂</text><text class="mg" x="-14" y="1192">39/</text><text class="mg" x="-14" y="1201">A</text>
<text class="mg" x="14" y="1183">♀</text><text class="mg" x="14" y="1192">190/</text><text class="mg" x="14" y="1201">B</text>
<use href="#m" class="w" y="1218"/><text x="0" y="1228.5">ふ化せず</text>
<use href="#m" class="w" y="1315"/><text x="0" y="1325.5">ペア解消</text>
</g>

<!-- AC -->
<g id="col-AC" class="t" transform="translate(1988,0)">
<line class="pl" x1="-25" y1="1147" x2="25" y2="1147"/><line class="pl" x1="-25" y1="1162" x2="25" y2="1162"/>
<text class="pg" y="1159">ACペア</text>
<rect class="mgs" x="-25" y="1175" width="22" height="28"/><rect class="mgs" x="3" y="1175" width="22" height="28"/>
<text class="mg" x="-14" y="1183">♂</text><text class="mg" x="-14" y="1192">62/</text><text class="mg" x="-14" y="1201">B</text>
<text class="mg" x="14" y="1183">♀</text><text class="mg" x="14" y="1192">104/</text><text class="mg" x="14" y="1201">A</text>
<use href="#m" class="w" y="1218"/><text x="0" y="1228.5">ふ化せず</text>
<use href="#m" class="w" y="1315"/><text x="0" y="1325.5">ペア解消</text>
</g>

<!-- AD -->
<g id="col-AD" class="t" transform="translate(2046,0)">
<rect class="fr" x="-27" y="1143" width="53" height="62" rx="6" stroke="#00ff00"/>
<rect class="ph" x="-24" y="1148" width="48" height="14"/><text class="pt" y="1159">ADペア</text><use href="#hr" y="1165"/>
<rect class="mr" x="-24" y="1175" width="22" height="28"/><rect class="mr" x="2" y="1175" width="22" height="28"/>
<text class="mt" x="-13" y="1183">♂</text><text class="mt" x="-13" y="1192">89/</text><text class="mt" x="-13" y="1201">A</text>
<text class="mt" x="13" y="1183">♀</text><text class="mt" x="13" y="1192">23/</text><text class="mt" x="13" y="1201">B</text>
<use href="#m" class="r6" y="1218"/><text class="v" x="3" y="1228.5">329♀</text><use href="#e" class="ek" x="-24" y="1225"/><text class="n b" x="-24" y="1228.5">115</text>
<use href="#m" class="r8" y="1232"/><text class="v" x="3" y="1242.5">332♂</text><use href="#e" class="ek" x="-24" y="1239"/><text class="n b" x="-24" y="1242.5">144</text>
<use href="#m" class="r8" y="1342"/><text class="v" x="3" y="1352.5">377♀</text><use href="#e" class="ek" x="-24" y="1349"/><text class="n b" x="-24" y="1352.5">150</text>
<use href="#m" class="r11" y="1356"/><text class="v" x="3" y="1366.5">399♂</text><use href="#e" class="ek" x="-24" y="1363"/><text class="n b" x="-24" y="1366.5">189</text>
<use href="#m" class="w" y="1370"/><text x="3" y="1380.5">403♀</text><use href="#e" class="ed" x="-24" y="1377"/><text class="n" x="-24" y="1380.5">151</text>
<use href="#m" class="r12" y="1495"/><text class="v" x="3" y="1505.5">439♂</text><use href="#e" class="ek" x="-24" y="1502"/><text class="n b" x="-24" y="1505.5">214</text>
<use href="#m" class="r13" y="1509"/><text class="v" x="3" y="1519.5">447♀</text><use href="#e" class="ek" x="-24" y="1516"/><text class="n b" x="-24" y="1519.5">231</text>
<use href="#m" class="k bT" y="1578"/><text class="b" x="3" y="1588.5">489♀</text>
<use href="#m" class="k bT" y="1592"/><text class="b" x="3" y="1602.5">492</text>
<use href="#m" class="k bT" y="1606"/><text class="b" x="3" y="1616.5">498</text>
<use href="#m" class="k bT" y="1686"/><text class="b" x="3" y="1696.5">539</text>
<use href="#m" class="k bT" y="1700"/><text class="b" x="3" y="1710.5">541</text>
<use href="#m" class="k bT" y="1714"/><text class="b" x="3" y="1724.5">543</text>
<use href="#m" class="k bT" y="1728"/><text class="b" x="3" y="1738.5">546</text>
</g>

<!-- AE -->
<g id="col-AE" class="t" transform="translate(2104,0)">
<rect class="fr" x="-27" y="1143" width="53" height="62" rx="6" stroke="#0000ff"/>
<rect class="ph" x="-24" y="1148" width="48" height="14"/><text class="pt" y="1159">AEペア</text><use href="#hr" y="1165"/>
<rect class="mr" x="-24" y="1175" width="22" height="28"/><rect class="mr" x="2" y="1175" width="22" height="28"/>
<text class="mt" x="-13" y="1183">♂</text><text class="mt" x="-13" y="1192">105/</text><text class="mt" x="-13" y="1201">A</text>
<text class="mt" x="13" y="1183">♀</text><text class="mt" x="13" y="1192">100/</text><text class="mt" x="13" y="1201">B</text>
<use href="#m" class="w" y="1218"/><text x="0" y="1228.5">ふ化せず</text>
<use href="#m" class="r12" y="1342"/><text class="v" x="3" y="1352.5">375♂</text><use href="#e" class="ek" x="-24" y="1349"/><text class="n b" x="-24" y="1352.5">204</text>
<use href="#m" class="r12" y="1356"/><text class="v" x="3" y="1366.5">388♂</text><use href="#e" class="ek" x="-24" y="1363"/><text class="n b" x="-24" y="1366.5">205</text>
<use href="#m" class="r10" y="1495"/><text class="v" x="3" y="1505.5">458♂</text><use href="#e" class="ek" x="-24" y="1502"/><text class="n b" x="-24" y="1505.5">185</text>
<use href="#m" class="c bB" y="1578"/><text class="b" x="3" y="1588.5">500♂</text>
<use href="#m" class="w" y="1790"/><text x="0" y="1800.5">ペア解消</text>
</g>

<!-- AF -->
<g id="col-AF" class="t" transform="translate(2162,0)">
<rect class="fr" x="-27" y="1143" width="53" height="62" rx="6" stroke="#ff66cc"/>
<rect class="ph" x="-24" y="1148" width="48" height="14"/><text class="pt" y="1159">AFペア</text><use href="#hr" y="1165"/>
<rect class="mr" x="-24" y="1175" width="22" height="28"/><rect class="mr" x="2" y="1175" width="22" height="28"/>
<text class="mt" x="-13" y="1183">♂</text><text class="mt" x="-13" y="1192">144/</text><text class="mt" x="-13" y="1201">A</text>
<text class="mt" x="13" y="1183">♀</text><text class="mt" x="13" y="1192">195/</text><text class="mt" x="13" y="1201">B</text>
<use href="#m" class="r8" y="1218"/><text class="v" x="3" y="1228.5">337♂</text><use href="#e" class="ek" x="-24" y="1225"/><text class="n b" x="-24" y="1228.5">145</text>
<use href="#m" class="w" y="1232"/><text x="3" y="1242.5">339♀</text><use href="#e" class="eg" x="-24" y="1239"/><text class="n" x="-24" y="1242.5">132</text>
<use href="#m" class="r8" y="1246"/><text class="v" x="3" y="1256.5">348♂</text><use href="#e" class="ek" x="-24" y="1253"/><text class="n b" x="-24" y="1256.5">146</text>
<use href="#m" class="r7" y="1260"/><text class="v" x="3" y="1270.5">349♀</text><use href="#e" class="ek" x="-24" y="1267"/><text class="n b" x="-24" y="1270.5">134</text>
<use href="#m" class="w" y="1274"/><text x="3" y="1284.5">350♂</text>
<use href="#m" class="r11" y="1342"/><text class="v" x="3" y="1352.5">357♀</text><use href="#e" class="ek" x="-24" y="1349"/><text class="n b" x="-24" y="1352.5">193</text>
<use href="#m" class="r11" y="1356"/><text class="v" x="3" y="1366.5">358♀</text><use href="#e" class="ek" x="-24" y="1363"/><text class="n b" x="-24" y="1366.5">194</text>
<use href="#m" class="w" y="1370"/><text x="3" y="1380.5">366♀</text><use href="#e" class="eg" x="-24" y="1377"/><text class="n" x="-24" y="1380.5">196</text>
<use href="#m" class="w" y="1495"/><text x="3" y="1505.5">414♂</text>
<use href="#m" class="r11" y="1509"/><text class="v" x="3" y="1519.5">440♀</text><use href="#e" class="ek" x="-24" y="1516"/><text class="n b" x="-24" y="1519.5">180</text>
<use href="#m" class="w" y="1523"/><text x="3" y="1533.5">442♀</text>
<use href="#m" class="k bN" y="1578"/><text class="b" x="3" y="1588.5">473</text>
<use href="#m" class="k bN" y="1592"/><text class="b" x="3" y="1602.5">501</text>
<use href="#m" class="k bN" y="1606"/><text class="b" x="3" y="1616.5">506</text>
<use href="#m" class="r7" y="1620"/><text class="v" x="3" y="1630.5">512♀</text><use href="#e" class="ek" x="-24" y="1627"/><text class="n b" x="-24" y="1630.5">219</text>
<use href="#m" class="k bN" y="1686"/><text class="b" x="3" y="1696.5">534</text>
<use href="#m" class="k bN" y="1700"/><text class="b" x="3" y="1710.5">536</text>
<use href="#m" class="k bN" y="1714"/><text class="b" x="3" y="1724.5">538</text>
<use href="#m" class="k bN" y="1728"/><text class="b" x="3" y="1738.5">566</text>
<use href="#m" class="k bN" y="1742"/><text class="b" x="3" y="1752.5">567</text>
</g>

<!-- AG -->
<g id="col-AG" class="t" transform="translate(2220,0)">
<rect class="fr" x="-27" y="1143" width="53" height="62" rx="6" stroke="#0000ff"/>
<rect class="ph" x="-24" y="1148" width="48" height="14"/><text class="pt" y="1159">AGペア</text><use href="#hr" y="1165"/>
<rect class="mr" x="-24" y="1175" width="22" height="28"/><rect class="mr" x="2" y="1175" width="22" height="28"/>
<text class="mt" x="-13" y="1183">♂</text><text class="mt" x="-13" y="1192">212/</text><text class="mt" x="-13" y="1201">A</text>
<text class="mt" x="13" y="1183">♀</text><text class="mt" x="13" y="1192">193/</text><text class="mt" x="13" y="1201">R</text>
<use href="#m" class="o" y="1218"/><text x="3" y="1228.5">333♂</text>
<use href="#m" class="r9" y="1232"/><text class="v" x="3" y="1242.5">334♀</text><use href="#e" class="ek" x="-24" y="1239"/><text class="n b" x="-24" y="1242.5">156</text>
<use href="#m" class="w" y="1342"/><text x="3" y="1352.5">382♂</text>
<use href="#m" class="o" y="1356"/><text x="3" y="1366.5">387♂</text>
<use href="#m" class="r11" y="1370"/><text class="v" x="3" y="1380.5">393♀</text><use href="#e" class="ek" x="-24" y="1377"/><text class="n b" x="-24" y="1380.5">199</text>
<use href="#m" class="r12" y="1495"/><text class="v" x="3" y="1505.5">416♂</text><use href="#e" class="ek" x="-24" y="1502"/><text class="n b" x="-24" y="1505.5">208</text>
<use href="#m" class="r11" y="1509"/><text class="v" x="3" y="1519.5">418♀</text><use href="#e" class="ek" x="-24" y="1516"/><text class="n b" x="-24" y="1519.5">203</text>
<use href="#m" class="w" y="1523"/><text x="3" y="1533.5">442♀</text>
<use href="#m" class="k bB" y="1578"/><text class="b" x="3" y="1588.5">487</text><use href="#e" class="ek" x="-24" y="1585"/><text class="n b" x="-24" y="1588.5">240</text>
<use href="#m" class="k bB" y="1592"/><text class="b" x="3" y="1602.5">494</text>
</g>

<!-- callouts -->
<g id="callouts" class="t">
<path class="cl" d="M864,517 H924 Q928,517 928,521 V536 Q928,540 924,540 H864 Q860,540 860,536 V527 L854,522 L860,522 V521 Q860,517 864,517Z"/>
<text class="cs" x="864" y="527">飛翔に失敗し、</text><text class="cs" x="864" y="536">繁殖ケージに収容</text>
<path class="cl" d="M772,584 H836 Q840,584 840,588 V611 Q840,615 836,615 H804 L800,627 L792,615 H772 Q768,615 768,611 V588 Q768,584 772,584Z"/>
<text class="cs" x="772" y="594">H24.1 猛禽類に襲撃</text><text class="cs" x="772" y="603">され負傷したため保</text><text class="cs" x="772" y="612">護</text>
<path class="cl" d="M860,1126 H896 L912,1121 L902,1126 H904 Q908,1126 908,1130 V1153 Q908,1157 904,1157 H860 Q856,1157 856,1153 V1130 Q856,1126 860,1126Z"/>
<text class="cs" x="860" y="1135">訓練中に負</text><text class="cs" x="860" y="1144">傷し、収容</text><text class="cs" x="860" y="1153">→第9回放鳥</text>
<path class="cl" d="M1021,879 H1067 Q1071,879 1071,883 V888 L1096,894 L1071,896 V920 Q1071,924 1067,924 H1021 Q1017,924 1017,920 V883 Q1017,879 1021,879Z"/>
<text class="cs" x="1021" y="889">H24.1 猛禽類</text><text class="cs" x="1021" y="898">に襲撃され負</text><text class="cs" x="1021" y="907">傷したため保</text><text class="cs" x="1021" y="916">護</text>
<path class="cl" d="M1028,992 H1066 L1090,985 L1072,993 Q1076,994 1076,997 V1018 Q1076,1022 1072,1022 H1028 Q1024,1022 1024,1018 V996 Q1024,992 1028,992Z"/>
<text class="cs" x="1028" y="1002">訓練中に負傷</text><text class="cs" x="1028" y="1011">し、収容放鳥</text><text class="cs" x="1028" y="1020">→第9回放鳥</text>
<path class="cl" d="M1151,1110 H1189 Q1193,1110 1193,1114 V1117 L1203,1112 L1193,1123 V1139 Q1193,1143 1189,1143 H1151 Q1147,1143 1147,1139 V1114 Q1147,1110 1151,1110Z"/>
<text class="cs" x="1151" y="1120">左翼が開き</text><text class="cs" x="1151" y="1129">にくく、訓練</text><text class="cs" x="1151" y="1138">見合わせ</text>
<path class="cl" d="M907,1270 H953 Q957,1270 957,1274 V1282 L966,1288 L957,1290 V1304 Q957,1308 953,1308 H907 Q903,1308 903,1304 V1274 Q903,1270 907,1270Z"/>
<text class="cs" x="906" y="1279">訓練開始後</text><text class="cs" x="906" y="1287">ネットにぶつか</text><text class="cs" x="906" y="1295">り収容</text><text class="cs" x="906" y="1303">→第9回放鳥</text>
<path class="cl" d="M1726,1177 H1736 L1735,1163 L1744,1177 H1775 Q1779,1177 1779,1181 V1201 Q1779,1205 1775,1205 H1726 Q1722,1205 1722,1201 V1181 Q1722,1177 1726,1177Z"/>
<text class="cs" x="1725" y="1186">訓練開始時ネッ</text><text class="cs" x="1725" y="1194">トにぶつかり収</text><text class="cs" x="1725" y="1202">容→第9回放鳥</text>
<path class="cl" d="M507,1513 H531 Q535,1513 535,1517 V1520 L568,1516 L535,1526 V1539 Q535,1543 531,1543 H507 Q503,1543 503,1539 V1517 Q503,1513 507,1513Z"/>
<text class="cs" x="507" y="1525">13/6/8</text><text class="cs" x="507" y="1535">逃出</text>
<path class="cl" d="M1562,1293 H1602 Q1606,1293 1606,1297 V1325 Q1606,1329 1602,1329 H1562 Q1558,1329 1558,1325 V1297 Q1558,1293 1562,1293Z"/>
<text class="cs" x="1561" y="1303">ビタミン欠</text><text class="cs" x="1561" y="1312">乏のため収</text><text class="cs" x="1561" y="1321">容→12回放鳥</text>
<rect x="1612" y="1297" width="46" height="12" fill="none" stroke="#00b0f0" stroke-width="1.5" stroke-dasharray="4 2"/>
<rect class="cl" x="2140" y="1523" width="18" height="10" rx="2"/><text class="cs" x="2142" y="1531">村上</text>
</g>

<!-- legend -->
<g id="legend">
<rect x="1040" y="162" width="478" height="328" fill="#fff" stroke="#000"/>
<text x="1278" y="186" font-size="17" font-weight="bold" text-anchor="middle" letter-spacing="20">凡例</text>
<g font-size="10" font-weight="bold" text-anchor="middle">
<rect x="1071" y="208" width="98" height="13" fill="#ffe0f0" stroke="#000"/><text x="1120" y="218.5">123♂</text>
<rect x="1071" y="231.5" width="98" height="13" fill="#e8e8e8" stroke="#000"/><text x="1120" y="242">123♂</text>
<rect x="1071" y="255" width="98" height="13" fill="#fcc99b" stroke="#f00" stroke-dasharray="3 1.5"/><text x="1120" y="265.5">123♀</text>
<rect x="1071" y="278" width="98" height="13" fill="#99ff99" stroke="#000"/><text x="1120" y="288.5">123♀</text>
<rect x="1071" y="301" width="98" height="13" fill="#fff" stroke="#a6a6a6"/><text x="1120" y="311.5" fill="#a6a6a6" font-weight="normal">123♀</text>
<rect x="1071" y="323" width="98" height="13" fill="#ccffff" stroke="#000"/><text x="1120" y="333.5">123♂</text>
<rect x="1071" y="344" width="98" height="13" fill="#ffffcc" stroke="#000"/><text x="1120" y="354.5" fill="#808080" font-weight="normal">123♂</text>
<g fill="#fff">
<rect x="1218" y="208" width="99" height="13" fill="#1f3864" stroke="#000"/><text x="1267" y="218.5">123♂</text>
<rect x="1218" y="231.5" width="99" height="13" fill="#cc0066" stroke="#000"/><text x="1267" y="242">123♀</text>
<rect x="1218" y="255" width="99" height="13" fill="#ffc000" stroke="#000"/><text x="1267" y="265.5">123♀</text>
<rect x="1218" y="278" width="99" height="13" fill="#006600" stroke="#000"/><text x="1267" y="288.5">123♀</text>
<rect x="1218" y="301" width="99" height="12" fill="#9933ff" stroke="#000"/><text x="1267" y="311">123♂</text>
<rect x="1218" y="323" width="99" height="12" fill="#0000ff" stroke="#000"/><text x="1267" y="333">123♂</text>
<rect x="1218" y="344" width="99" height="12" fill="#ff0000" stroke="#000"/><text x="1267" y="354">123♂</text>
<rect x="1218" y="365" width="99" height="12" fill="#00b0f0" stroke="#000"/><text x="1267" y="375">123♂</text>
<rect x="1218" y="386" width="99" height="12" fill="#ff99cc" stroke="#000"/><text x="1267" y="396">123♂</text>
<rect x="1218" y="407" width="99" height="12" fill="#e46c0a" stroke="#000"/><text x="1267" y="417">123♂</text>
<rect x="1218" y="428" width="99" height="12" fill="#00c896" stroke="#000"/><text x="1267" y="438">123♂</text>
<rect x="1218" y="448" width="99" height="12" fill="#ff0066" stroke="#000"/><text x="1267" y="458">123♂</text>
<rect x="1218" y="468" width="99" height="12" fill="#00ff00" stroke="#000"/><text x="1267" y="478">123♂</text>
</g>
<g fill="#808080" font-weight="normal">
<rect x="1366" y="208" width="99" height="13" fill="#fff" stroke="#0070c0" stroke-width="2"/><text x="1415" y="218.5">123♂</text>
<rect x="1366" y="231.5" width="99" height="13" fill="#fff" stroke="#00ff00" stroke-width="2"/><text x="1415" y="242">123♂</text>
<rect x="1366" y="255" width="99" height="13" fill="#fff" stroke="#c00000" stroke-width="2"/><text x="1415" y="265.5">123♀</text>
<rect x="1366" y="278" width="99" height="13" fill="#fff" stroke="#ff99cc" stroke-width="2"/><text x="1415" y="288.5">123♀</text>
<rect x="1366" y="301" width="99" height="13" fill="#fff" stroke="#ff9900" stroke-width="2"/><text x="1415" y="311.5">123♀</text>
<rect x="1366" y="323" width="99" height="13" fill="#fff" stroke="#ff3300" stroke-width="2"/><text x="1415" y="333.5">123♀</text>
</g>
</g>
<g class="lg">
<text x="1073" y="230">中国返還予定個体</text>
<text x="1073" y="253.5">中国返還済み個体</text>
<text x="1073" y="277">繁殖ペアとなった個体</text>
<text x="1073" y="300">過去繁殖ペアだった個体</text>
<text x="1073" y="322" textLength="142" lengthAdjust="spacingAndGlyphs">死亡/6ヵ月以上未確認(放鳥個体)</text>
<text x="1073" y="345">自然孵化・育雛個体</text>
<text x="1073" y="366">自然育雛個体</text>
<text x="1220" y="230">第1回放鳥個体</text>
<text x="1220" y="253.5">第2回放鳥個体</text>
<text x="1220" y="277">第3回放鳥個体</text>
<text x="1220" y="300">第4回放鳥個体</text>
<text x="1220" y="322">第5回放鳥個体</text>
<text x="1220" y="344">第6回放鳥個体</text>
<text x="1220" y="365">第7回放鳥個体</text>
<text x="1220" y="386">第8回放鳥個体</text>
<text x="1220" y="407">第9回放鳥個体</text>
<text x="1220" y="428">第10回放鳥個体</text>
<text x="1220" y="448">第11回放鳥個体</text>
<text x="1220" y="468">第12回放鳥個体</text>
<text x="1220" y="488">第13回放鳥個体</text>
<text x="1368" y="230" textLength="132" lengthAdjust="spacingAndGlyphs">野生復帰ステーションで飼育</text>
<text x="1368" y="253.5">多摩動物公園で飼育</text>
<text x="1368" y="277">いしかわ動物園で飼育</text>
<text x="1368" y="300" textLength="146" lengthAdjust="spacingAndGlyphs">出雲市トキ分散飼育センターで飼育</text>
<text x="1368" y="322" textLength="146" lengthAdjust="spacingAndGlyphs">長岡市トキ分散飼育センターで飼育</text>
<text x="1368" y="344" textLength="146" lengthAdjust="spacingAndGlyphs">佐渡市トキふれあいプラザで飼育</text>
</g>
</g>

<!-- lineage inset -->
<g id="inset">
<rect x="1593" y="268" width="637" height="454" fill="#fff" stroke="#a6a6a6"/>
<text x="1906" y="303" font-size="28" text-anchor="middle" textLength="330" lengthAdjust="spacingAndGlyphs">トキの系統図（概略図）</text>
<g class="il">
<path d="M1926,393 V410 M1851,410 H2170 M1851,410 V426 M1934,410 V432 M2025,410 V432 M2170,410 V433"/>
<path d="M1780,467 V476 H1852 V467 M1841,476 V490 M1822,490 H1910 M1822,490 V504 M1910,490 V504"/>
<path d="M1653,540 V562 H1735 V542 M1671,562 V580"/>
<path d="M1793,555 V572 M1753,572 H1841 M1753,572 V580 M1841,572 V580"/>
<path d="M1612,371 V639 H1755 V614 M1694,639 V667"/>
<path d="M1974,467 V562 H1910 V540 M1929,562 V628"/>
<path d="M2060,483 V506 M2107,468 V483 H2179 V467 M2142,483 V506"/>
</g>
<g class="ild">
<path d="M1637,371 V393 H2147 V371"/>
<path d="M1751,542 V555 H1836 V540"/>
<path d="M2026,467 V483 H2098 V468"/>
</g>
<path d="M1922,540 V571 H2080 V545 M2026,571 V589" fill="none" stroke="#b0b0b0" stroke-width="1.5"/>
<g font-size="11" font-weight="bold">
<text x="1602" y="322">1999来日</text>
<text x="2116" y="322">1999来日</text>
<text x="1876" y="383" text-anchor="middle">2010ペア解消</text>
<text x="1752" y="422">2000来日</text>
<text x="2073" y="425">2007来日</text>
<text x="1714" y="498">2007来日</text>
</g>
<g font-size="9.5" font-weight="bold" text-anchor="middle">
<text x="1695" y="553">2013新規ペア</text>
<text x="1791" y="551">2012ペア解消</text>
<text x="1706" y="636">2011新規ペア</text>
<text x="2057" y="480">2011ペア解消</text>
<text x="2143" y="480">2012新規ペア</text>
</g>
<rect class="pch" x="1595" y="328" width="66" height="43"/>
<rect class="pch" x="2107" y="329" width="69" height="42"/>
<rect class="pch" x="1747" y="426" width="64" height="41"/>
<rect class="ins" x="1819" y="426" width="65" height="41"/>
<rect class="ins" x="1897" y="438" width="89" height="35"/><rect class="ins" x="1893.5" y="435" width="89" height="35"/><rect class="ins" x="1890" y="432" width="89" height="35"/>
<rect class="ins" x="1995" y="432" width="62" height="35"/>
<rect class="pch" x="2066" y="427" width="66" height="41"/>
<rect class="ins" x="2141" y="433" width="59" height="34"/>
<rect class="ins" x="1627" y="505" width="71" height="35"/>
<rect class="pch" x="1713" y="501" width="66" height="41"/>
<rect class="ins" x="1794" y="504" width="57" height="36"/>
<rect class="ins" x="1872" y="510" width="87" height="36"/><rect class="ins" x="1868.5" y="507" width="87" height="36"/><rect class="ins" x="1865" y="504" width="87" height="36"/>
<rect class="ins" x="2021" y="510" width="88" height="36"/><rect class="ins" x="2017" y="506" width="88" height="36"/>
<rect class="ins" x="2116" y="506" width="101" height="36"/>
<rect class="ins" x="1624" y="584" width="87" height="33"/><rect class="ins" x="1620" y="580" width="87" height="33"/>
<rect class="ins" x="1721" y="580" width="68" height="34"/>
<rect class="ins" x="1804" y="584" width="87" height="34"/><rect class="ins" x="1800" y="580" width="87" height="34"/>
<rect class="ins" x="1654" y="671" width="87" height="31"/><rect class="ins" x="1650" y="667" width="87" height="31"/>
<rect x="1987" y="589" width="75" height="23" fill="#d9d9d9" stroke="#666" stroke-width="1.5"/>
<rect x="1864" y="638" width="131" height="64" fill="#d9d9d9" stroke="#000" stroke-width="2"/>
<rect x="1858" y="633" width="131" height="64" fill="#d9d9d9" stroke="#000" stroke-width="2"/>
<rect x="1851" y="628" width="131" height="64" fill="#d9d9d9" stroke="#000" stroke-width="2"/>
<g font-size="8" text-anchor="middle">
<text x="1628" y="340" fill="#3333ff">ヨウ　ヨウ</text>
<text x="2141" y="340" fill="#f00">ヤン　ヤン</text>
<text x="1779" y="437" fill="#f00">メイ　メイ</text>
<text x="1851" y="437" fill="#3333ff">ユウ　ユウ</text>
<text x="2099" y="438" fill="#3333ff">ホワ　ヤン</text>
<text x="1746" y="512" fill="#f00">イー　シュイ</text>
</g>
<g font-size="25" text-anchor="middle">
<text x="1628" y="366" fill="#3333ff">友友</text>
<text x="2141" y="366" fill="#f00">洋洋</text>
<text x="1779" y="462" fill="#f00">美美</text>
<text x="1851" y="462" fill="#3333ff">優優</text>
<text x="2099" y="463" fill="#3333ff">華陽</text>
<text x="1746" y="537" fill="#f00">溢水</text>
</g>
<g font-size="21" text-anchor="middle">
<text x="1934" y="458">A系統</text>
<text x="2026" y="458" fill="#f00">54A</text>
<text x="2170" y="458" fill="#f00">87A</text>
<text x="1662" y="531" fill="#3333ff">260B</text>
<text x="1822" y="531" fill="#3333ff">82B</text>
<text x="1908" y="531">B系統</text>
<text x="2061" y="533">Q系統</text>
<text x="2166" y="533">AH系統</text>
<text x="1663" y="605">AQ系統</text>
<text x="1755" y="606" fill="#f00">226R</text>
<text x="1843" y="606">R系統</text>
<text x="1693" y="691">AA系統</text>
</g>
<text x="2024" y="606" font-size="14" fill="#f00" text-anchor="middle">８羽放鳥</text>
<text x="1916" y="657" font-size="24" text-anchor="middle">ほとんどの</text>
<text x="1916" y="686" font-size="24" text-anchor="middle">放鳥個体</text>
<g font-size="15">
<text x="2009" y="659" fill="#f79646">橙枠：中国から来たトキ</text>
<text x="2009" y="678" fill="#00b050">緑枠：主として繁殖用のトキ</text>
<text x="2009" y="697" fill="#404040">黒枠：主として放鳥用のトキ</text>
<text x="2009" y="716"><tspan fill="#f00">赤字：メス</tspan><tspan fill="#3333ff">　青字：オス</tspan></text>
</g>
</g>
</svg>
